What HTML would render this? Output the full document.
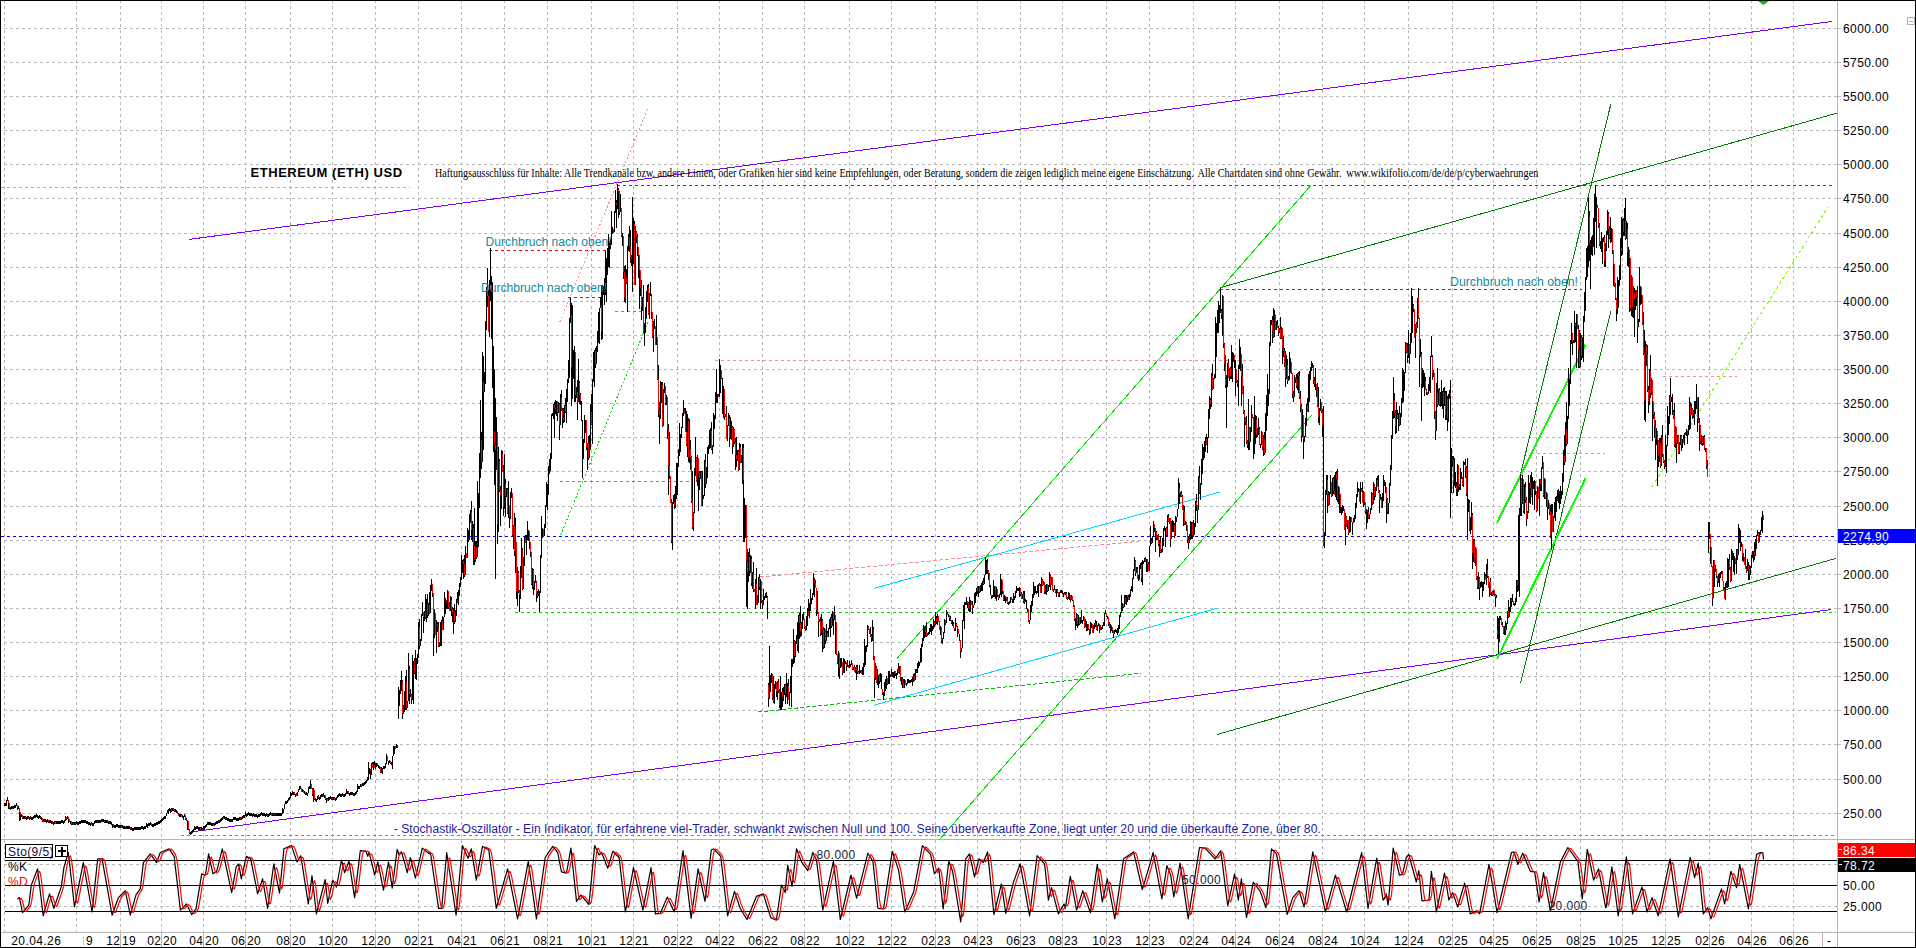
<!DOCTYPE html>
<html><head><meta charset="utf-8"><style>
html,body{margin:0;padding:0;background:#fff;width:1916px;height:948px;overflow:hidden}
svg{display:block}
</style></head><body>
<svg width="1916" height="948" viewBox="0 0 1916 948">
<rect width="1916" height="948" fill="#fff"/>
<g shape-rendering="crispEdges" stroke="#b8b8b8" stroke-width="1" stroke-dasharray="3 3">
<line x1="4" y1="28.5" x2="1837" y2="28.5"/>
<line x1="4" y1="62.5" x2="1837" y2="62.5"/>
<line x1="4" y1="96.5" x2="1837" y2="96.5"/>
<line x1="4" y1="130.5" x2="1837" y2="130.5"/>
<line x1="4" y1="164.5" x2="1837" y2="164.5"/>
<line x1="4" y1="198.5" x2="1837" y2="198.5"/>
<line x1="4" y1="233.5" x2="1837" y2="233.5"/>
<line x1="4" y1="267.5" x2="1837" y2="267.5"/>
<line x1="4" y1="301.5" x2="1837" y2="301.5"/>
<line x1="4" y1="335.5" x2="1837" y2="335.5"/>
<line x1="4" y1="369.5" x2="1837" y2="369.5"/>
<line x1="4" y1="403.5" x2="1837" y2="403.5"/>
<line x1="4" y1="437.5" x2="1837" y2="437.5"/>
<line x1="4" y1="471.5" x2="1837" y2="471.5"/>
<line x1="4" y1="506.5" x2="1837" y2="506.5"/>
<line x1="4" y1="540.5" x2="1837" y2="540.5"/>
<line x1="4" y1="574.5" x2="1837" y2="574.5"/>
<line x1="4" y1="608.5" x2="1837" y2="608.5"/>
<line x1="4" y1="642.5" x2="1837" y2="642.5"/>
<line x1="4" y1="676.5" x2="1837" y2="676.5"/>
<line x1="4" y1="710.5" x2="1837" y2="710.5"/>
<line x1="4" y1="744.5" x2="1837" y2="744.5"/>
<line x1="4" y1="779.5" x2="1837" y2="779.5"/>
<line x1="4" y1="813.5" x2="1837" y2="813.5"/>
<line x1="4.5" y1="0" x2="4.5" y2="839"/>
<line x1="4.5" y1="840" x2="4.5" y2="932"/>
<line x1="76.5" y1="0" x2="76.5" y2="839"/>
<line x1="76.5" y1="840" x2="76.5" y2="932"/>
<line x1="120.5" y1="0" x2="120.5" y2="839"/>
<line x1="120.5" y1="840" x2="120.5" y2="932"/>
<line x1="161.5" y1="0" x2="161.5" y2="839"/>
<line x1="161.5" y1="840" x2="161.5" y2="932"/>
<line x1="203.5" y1="0" x2="203.5" y2="839"/>
<line x1="203.5" y1="840" x2="203.5" y2="932"/>
<line x1="245.5" y1="0" x2="245.5" y2="839"/>
<line x1="245.5" y1="840" x2="245.5" y2="932"/>
<line x1="290.5" y1="0" x2="290.5" y2="839"/>
<line x1="290.5" y1="840" x2="290.5" y2="932"/>
<line x1="332.5" y1="0" x2="332.5" y2="839"/>
<line x1="332.5" y1="840" x2="332.5" y2="932"/>
<line x1="375.5" y1="0" x2="375.5" y2="839"/>
<line x1="375.5" y1="840" x2="375.5" y2="932"/>
<line x1="418.5" y1="0" x2="418.5" y2="839"/>
<line x1="418.5" y1="840" x2="418.5" y2="932"/>
<line x1="461.5" y1="0" x2="461.5" y2="839"/>
<line x1="461.5" y1="840" x2="461.5" y2="932"/>
<line x1="504.5" y1="0" x2="504.5" y2="839"/>
<line x1="504.5" y1="840" x2="504.5" y2="932"/>
<line x1="547.5" y1="0" x2="547.5" y2="839"/>
<line x1="547.5" y1="840" x2="547.5" y2="932"/>
<line x1="591.5" y1="0" x2="591.5" y2="839"/>
<line x1="591.5" y1="840" x2="591.5" y2="932"/>
<line x1="633.5" y1="0" x2="633.5" y2="839"/>
<line x1="633.5" y1="840" x2="633.5" y2="932"/>
<line x1="677.5" y1="0" x2="677.5" y2="839"/>
<line x1="677.5" y1="840" x2="677.5" y2="932"/>
<line x1="719.5" y1="0" x2="719.5" y2="839"/>
<line x1="719.5" y1="840" x2="719.5" y2="932"/>
<line x1="762.5" y1="0" x2="762.5" y2="839"/>
<line x1="762.5" y1="840" x2="762.5" y2="932"/>
<line x1="804.5" y1="0" x2="804.5" y2="839"/>
<line x1="804.5" y1="840" x2="804.5" y2="932"/>
<line x1="849.5" y1="0" x2="849.5" y2="839"/>
<line x1="849.5" y1="840" x2="849.5" y2="932"/>
<line x1="891.5" y1="0" x2="891.5" y2="839"/>
<line x1="891.5" y1="840" x2="891.5" y2="932"/>
<line x1="935.5" y1="0" x2="935.5" y2="839"/>
<line x1="935.5" y1="840" x2="935.5" y2="932"/>
<line x1="977.5" y1="0" x2="977.5" y2="839"/>
<line x1="977.5" y1="840" x2="977.5" y2="932"/>
<line x1="1020.5" y1="0" x2="1020.5" y2="839"/>
<line x1="1020.5" y1="840" x2="1020.5" y2="932"/>
<line x1="1062.5" y1="0" x2="1062.5" y2="839"/>
<line x1="1062.5" y1="840" x2="1062.5" y2="932"/>
<line x1="1106.5" y1="0" x2="1106.5" y2="839"/>
<line x1="1106.5" y1="840" x2="1106.5" y2="932"/>
<line x1="1149.5" y1="0" x2="1149.5" y2="839"/>
<line x1="1149.5" y1="840" x2="1149.5" y2="932"/>
<line x1="1193.5" y1="0" x2="1193.5" y2="839"/>
<line x1="1193.5" y1="840" x2="1193.5" y2="932"/>
<line x1="1235.5" y1="0" x2="1235.5" y2="839"/>
<line x1="1235.5" y1="840" x2="1235.5" y2="932"/>
<line x1="1279.5" y1="0" x2="1279.5" y2="839"/>
<line x1="1279.5" y1="840" x2="1279.5" y2="932"/>
<line x1="1322.5" y1="0" x2="1322.5" y2="839"/>
<line x1="1322.5" y1="840" x2="1322.5" y2="932"/>
<line x1="1364.5" y1="0" x2="1364.5" y2="839"/>
<line x1="1364.5" y1="840" x2="1364.5" y2="932"/>
<line x1="1408.5" y1="0" x2="1408.5" y2="839"/>
<line x1="1408.5" y1="840" x2="1408.5" y2="932"/>
<line x1="1452.5" y1="0" x2="1452.5" y2="839"/>
<line x1="1452.5" y1="840" x2="1452.5" y2="932"/>
<line x1="1493.5" y1="0" x2="1493.5" y2="839"/>
<line x1="1493.5" y1="840" x2="1493.5" y2="932"/>
<line x1="1536.5" y1="0" x2="1536.5" y2="839"/>
<line x1="1536.5" y1="840" x2="1536.5" y2="932"/>
<line x1="1580.5" y1="0" x2="1580.5" y2="839"/>
<line x1="1580.5" y1="840" x2="1580.5" y2="932"/>
<line x1="1622.5" y1="0" x2="1622.5" y2="839"/>
<line x1="1622.5" y1="840" x2="1622.5" y2="932"/>
<line x1="1665.5" y1="0" x2="1665.5" y2="839"/>
<line x1="1665.5" y1="840" x2="1665.5" y2="932"/>
<line x1="1709.5" y1="0" x2="1709.5" y2="839"/>
<line x1="1709.5" y1="840" x2="1709.5" y2="932"/>
<line x1="1751.5" y1="0" x2="1751.5" y2="839"/>
<line x1="1751.5" y1="840" x2="1751.5" y2="932"/>
<line x1="1793.5" y1="0" x2="1793.5" y2="839"/>
<line x1="1793.5" y1="840" x2="1793.5" y2="932"/>
<line x1="4" y1="864.5" x2="1837" y2="864.5"/>
<line x1="4" y1="906.5" x2="1837" y2="906.5"/>
</g>
<g shape-rendering="crispEdges" stroke="#b8b8b8" stroke-width="1">
<line x1="1834" y1="28.5" x2="1841" y2="28.5"/>
<line x1="1834" y1="62.5" x2="1841" y2="62.5"/>
<line x1="1834" y1="96.5" x2="1841" y2="96.5"/>
<line x1="1834" y1="130.5" x2="1841" y2="130.5"/>
<line x1="1834" y1="164.5" x2="1841" y2="164.5"/>
<line x1="1834" y1="198.5" x2="1841" y2="198.5"/>
<line x1="1834" y1="233.5" x2="1841" y2="233.5"/>
<line x1="1834" y1="267.5" x2="1841" y2="267.5"/>
<line x1="1834" y1="301.5" x2="1841" y2="301.5"/>
<line x1="1834" y1="335.5" x2="1841" y2="335.5"/>
<line x1="1834" y1="369.5" x2="1841" y2="369.5"/>
<line x1="1834" y1="403.5" x2="1841" y2="403.5"/>
<line x1="1834" y1="437.5" x2="1841" y2="437.5"/>
<line x1="1834" y1="471.5" x2="1841" y2="471.5"/>
<line x1="1834" y1="506.5" x2="1841" y2="506.5"/>
<line x1="1834" y1="540.5" x2="1841" y2="540.5"/>
<line x1="1834" y1="574.5" x2="1841" y2="574.5"/>
<line x1="1834" y1="608.5" x2="1841" y2="608.5"/>
<line x1="1834" y1="642.5" x2="1841" y2="642.5"/>
<line x1="1834" y1="676.5" x2="1841" y2="676.5"/>
<line x1="1834" y1="710.5" x2="1841" y2="710.5"/>
<line x1="1834" y1="744.5" x2="1841" y2="744.5"/>
<line x1="1834" y1="779.5" x2="1841" y2="779.5"/>
<line x1="1834" y1="813.5" x2="1841" y2="813.5"/>
</g>
<g shape-rendering="crispEdges">
<rect x="0" y="0" width="1916" height="1" fill="#000"/>
<rect x="0" y="0" width="1" height="948" fill="#000"/>
<rect x="1915" y="0" width="1" height="948" fill="#000"/>
<rect x="0" y="947" width="1916" height="1" fill="#000"/>
<rect x="1" y="839" width="1914" height="1" fill="#b4b4b4"/>
<rect x="1" y="932" width="1914" height="1" fill="#b4b4b4"/>
<rect x="1837" y="1" width="1" height="946" fill="#b4b4b4"/>
<rect x="120" y="933" width="1" height="14" fill="#b4b4b4"/>
<rect x="161" y="933" width="1" height="14" fill="#b4b4b4"/>
<rect x="203" y="933" width="1" height="14" fill="#b4b4b4"/>
<rect x="245" y="933" width="1" height="14" fill="#b4b4b4"/>
<rect x="290" y="933" width="1" height="14" fill="#b4b4b4"/>
<rect x="332" y="933" width="1" height="14" fill="#b4b4b4"/>
<rect x="375" y="933" width="1" height="14" fill="#b4b4b4"/>
<rect x="418" y="933" width="1" height="14" fill="#b4b4b4"/>
<rect x="461" y="933" width="1" height="14" fill="#b4b4b4"/>
<rect x="504" y="933" width="1" height="14" fill="#b4b4b4"/>
<rect x="547" y="933" width="1" height="14" fill="#b4b4b4"/>
<rect x="591" y="933" width="1" height="14" fill="#b4b4b4"/>
<rect x="633" y="933" width="1" height="14" fill="#b4b4b4"/>
<rect x="677" y="933" width="1" height="14" fill="#b4b4b4"/>
<rect x="719" y="933" width="1" height="14" fill="#b4b4b4"/>
<rect x="762" y="933" width="1" height="14" fill="#b4b4b4"/>
<rect x="804" y="933" width="1" height="14" fill="#b4b4b4"/>
<rect x="849" y="933" width="1" height="14" fill="#b4b4b4"/>
<rect x="891" y="933" width="1" height="14" fill="#b4b4b4"/>
<rect x="935" y="933" width="1" height="14" fill="#b4b4b4"/>
<rect x="977" y="933" width="1" height="14" fill="#b4b4b4"/>
<rect x="1020" y="933" width="1" height="14" fill="#b4b4b4"/>
<rect x="1062" y="933" width="1" height="14" fill="#b4b4b4"/>
<rect x="1106" y="933" width="1" height="14" fill="#b4b4b4"/>
<rect x="1149" y="933" width="1" height="14" fill="#b4b4b4"/>
<rect x="1193" y="933" width="1" height="14" fill="#b4b4b4"/>
<rect x="1235" y="933" width="1" height="14" fill="#b4b4b4"/>
<rect x="1279" y="933" width="1" height="14" fill="#b4b4b4"/>
<rect x="1322" y="933" width="1" height="14" fill="#b4b4b4"/>
<rect x="1364" y="933" width="1" height="14" fill="#b4b4b4"/>
<rect x="1408" y="933" width="1" height="14" fill="#b4b4b4"/>
<rect x="1452" y="933" width="1" height="14" fill="#b4b4b4"/>
<rect x="1493" y="933" width="1" height="14" fill="#b4b4b4"/>
<rect x="1536" y="933" width="1" height="14" fill="#b4b4b4"/>
<rect x="1580" y="933" width="1" height="14" fill="#b4b4b4"/>
<rect x="1622" y="933" width="1" height="14" fill="#b4b4b4"/>
<rect x="1665" y="933" width="1" height="14" fill="#b4b4b4"/>
<rect x="1709" y="933" width="1" height="14" fill="#b4b4b4"/>
<rect x="1751" y="933" width="1" height="14" fill="#b4b4b4"/>
<rect x="1793" y="933" width="1" height="14" fill="#b4b4b4"/>
<rect x="1822" y="933" width="1" height="14" fill="#b4b4b4"/>
</g>
<line x1="1" y1="187.5" x2="410" y2="187.5" stroke="#ff8c8c" stroke-width="1" stroke-dasharray="3 3" shape-rendering="crispEdges"/>
<line x1="617" y1="185.5" x2="1832" y2="185.5" stroke="#ff0000" stroke-width="1" stroke-dasharray="3 3" shape-rendering="crispEdges"/>
<line x1="489" y1="250.5" x2="607" y2="250.5" stroke="#ff0000" stroke-width="1" stroke-dasharray="3 3" shape-rendering="crispEdges"/>
<line x1="568" y1="297.5" x2="602" y2="297.5" stroke="#ff0000" stroke-width="1" stroke-dasharray="3 3" shape-rendering="crispEdges"/>
<line x1="1220" y1="289.5" x2="1582" y2="289.5" stroke="#ff0000" stroke-width="1" stroke-dasharray="3 3" shape-rendering="crispEdges"/>
<line x1="715" y1="360.5" x2="1255" y2="360.5" stroke="#ff8c8c" stroke-width="1" stroke-dasharray="3 3" shape-rendering="crispEdges"/>
<line x1="1" y1="536.5" x2="1836" y2="536.5" stroke="#0000ff" stroke-width="1" stroke-dasharray="3 3" shape-rendering="crispEdges"/>
<line x1="560" y1="481.5" x2="693" y2="481.5" stroke="#00e000" stroke-width="1" stroke-dasharray="3 3" shape-rendering="crispEdges"/>
<line x1="615" y1="311.5" x2="647" y2="311.5" stroke="#00e000" stroke-width="1" stroke-dasharray="3 3" shape-rendering="crispEdges"/>
<line x1="515" y1="612.5" x2="1836" y2="612.5" stroke="#00e000" stroke-width="1" stroke-dasharray="3 3" shape-rendering="crispEdges"/>
<line x1="1531" y1="453.5" x2="1605" y2="453.5" stroke="#ff8c8c" stroke-width="1" stroke-dasharray="3 3" shape-rendering="crispEdges"/>
<line x1="1541" y1="549.5" x2="1671" y2="549.5" stroke="#a0f000" stroke-width="1" stroke-dasharray="3 3" shape-rendering="crispEdges"/>
<line x1="1663" y1="376.5" x2="1737" y2="376.5" stroke="#ff8c8c" stroke-width="1" stroke-dasharray="3 3" shape-rendering="crispEdges"/>
<line x1="181" y1="835.5" x2="1836" y2="835.5" stroke="#00e000" stroke-width="1" stroke-dasharray="3 3" shape-rendering="crispEdges"/>
<line x1="759.8" y1="577.0" x2="1139.0" y2="541.3" stroke="#ff8c8c" stroke-width="1" stroke-dasharray="4 2" shape-rendering="crispEdges"/>
<line x1="758.0" y1="712.0" x2="1140.6" y2="673.3" stroke="#00c000" stroke-width="1" stroke-dasharray="4 2" shape-rendering="crispEdges"/>
<line x1="560.6" y1="535.2" x2="648.0" y2="322.0" stroke="#00e000" stroke-width="1" stroke-dasharray="2 2" shape-rendering="crispEdges"/>
<line x1="559.8" y1="322.0" x2="648.0" y2="108.0" stroke="#ff8c8c" stroke-width="1" stroke-dasharray="2 2" shape-rendering="crispEdges"/>
<line x1="1651.8" y1="487.0" x2="1828.0" y2="207.0" stroke="#80ff00" stroke-width="1.1" stroke-dasharray="3 3" shape-rendering="crispEdges"/>
<line x1="189.0" y1="239.4" x2="1831.7" y2="21.5" stroke="#8000ff" stroke-width="1.0" shape-rendering="crispEdges"/>
<line x1="189.5" y1="832.2" x2="1830.6" y2="609.6" stroke="#8000ff" stroke-width="1.0" shape-rendering="crispEdges"/>
<line x1="1219.7" y1="287.8" x2="1836.8" y2="113.2" stroke="#008000" stroke-width="1.0" shape-rendering="crispEdges"/>
<line x1="1216.7" y1="734.6" x2="1836.0" y2="558.4" stroke="#008000" stroke-width="1.0" shape-rendering="crispEdges"/>
<line x1="897.0" y1="658.5" x2="1310.5" y2="185.8" stroke="#00e000" stroke-width="1.0" shape-rendering="crispEdges"/>
<line x1="940.0" y1="839.0" x2="1311.8" y2="415.0" stroke="#00e000" stroke-width="1.0" shape-rendering="crispEdges"/>
<line x1="874.0" y1="588.4" x2="1220.0" y2="492.0" stroke="#00d8ff" stroke-width="1.0" shape-rendering="crispEdges"/>
<line x1="874.0" y1="705.2" x2="1218.0" y2="608.0" stroke="#00d8ff" stroke-width="1.0" shape-rendering="crispEdges"/>
<line x1="1520.7" y1="682.7" x2="1610.8" y2="311.5" stroke="#008000" stroke-width="1.0" shape-rendering="crispEdges"/>
<line x1="1520.5" y1="474.0" x2="1610.8" y2="104.2" stroke="#008000" stroke-width="1.0" shape-rendering="crispEdges"/>
<line x1="1497.0" y1="659.0" x2="1585.6" y2="478.5" stroke="#00ff00" stroke-width="2.0" shape-rendering="crispEdges"/>
<line x1="1497.0" y1="522.8" x2="1585.4" y2="344.7" stroke="#00ff00" stroke-width="2.0" shape-rendering="crispEdges"/>
<path d="M4.5 803V806M5.5 803V806M6.5 800V806M7.5 797V801M8.5 800V809M9.5 803V809M10.5 807V810M11.5 806V809M12.5 806V809M13.5 806V809M14.5 805V808M15.5 805V808M16.5 803V806M17.5 805V810M18.5 806V809M19.5 808V821M20.5 812V820M21.5 814V817M22.5 815V819M23.5 816V819M24.5 816V819M25.5 816V819M26.5 817V820M27.5 816V819M28.5 816V819M29.5 817V820M30.5 816V819M31.5 817V820M32.5 817V820M33.5 816V819M34.5 815V818M35.5 815V818M36.5 814V817M37.5 815V818M38.5 816V819M39.5 815V818M40.5 816V819M41.5 817V820M42.5 818V822M43.5 819V822M44.5 819V822M45.5 819V822M46.5 820V823M47.5 819V822M48.5 820V823M49.5 820V823M50.5 820V823M51.5 821V824M52.5 821V824M53.5 822V825M54.5 821V824M55.5 821V824M56.5 821V824M57.5 821V824M58.5 821V824M59.5 821V824M60.5 821V824M61.5 820V823M62.5 820V823M63.5 821V824M64.5 820V823M65.5 816V821M66.5 817V820M67.5 816V819M68.5 817V823M69.5 819V822M70.5 821V824M71.5 821V825M72.5 822V825M73.5 822V825M74.5 822V825M75.5 822V825M76.5 821V824M77.5 822V825M78.5 822V825M79.5 821V824M80.5 821V824M81.5 820V823M82.5 820V823M83.5 820V823M84.5 820V823M85.5 820V823M86.5 821V824M87.5 821V824M88.5 822V825M89.5 822V825M90.5 823V826M91.5 822V825M92.5 823V826M93.5 823V826M94.5 821V824M95.5 820V823M96.5 820V823M97.5 820V823M98.5 820V823M99.5 820V823M100.5 820V823M101.5 819V822M102.5 819V822M103.5 819V822M104.5 820V823M105.5 820V823M106.5 820V823M107.5 820V823M108.5 821V824M109.5 821V824M110.5 821V824M111.5 822V825M112.5 824V828M113.5 824V827M114.5 825V828M115.5 825V828M116.5 824V827M117.5 824V827M118.5 825V828M119.5 825V828M120.5 825V828M121.5 825V828M122.5 825V828M123.5 826V829M124.5 826V829M125.5 826V829M126.5 826V829M127.5 826V829M128.5 826V829M129.5 826V829M130.5 827V830M131.5 827V830M132.5 828V831M133.5 828V831M134.5 827V830M135.5 827V830M136.5 827V830M137.5 827V830M138.5 827V830M139.5 827V830M140.5 827V830M141.5 826V829M142.5 826V829M143.5 827V830M144.5 826V829M145.5 826V829M146.5 823V827M147.5 824V828M148.5 823V826M149.5 823V826M150.5 822V825M151.5 823V826M152.5 824V827M153.5 824V827M154.5 823V826M155.5 823V826M156.5 822V825M157.5 822V825M158.5 821V824M159.5 821V824M160.5 820V823M161.5 819V822M162.5 818V821M163.5 817V820M164.5 816V819M165.5 816V819M166.5 813V816M167.5 810V813M168.5 809V814M169.5 808V811M170.5 809V813M171.5 808V812M172.5 808V811M173.5 808V811M174.5 809V812M175.5 809V812M176.5 810V813M177.5 811V814M178.5 813V816M179.5 814V817M180.5 814V817M181.5 814V817M182.5 815V818M183.5 816V820M184.5 814V817M185.5 815V820M186.5 818V821M187.5 820V830M188.5 821V830M189.5 829V834M190.5 832V835M191.5 831V834M192.5 830V833M193.5 829V832M194.5 826V830M195.5 827V830M196.5 826V829M197.5 826V829M198.5 827V830M199.5 827V830M200.5 827V831M201.5 827V830M202.5 828V831M203.5 826V830M204.5 826V830M205.5 825V828M206.5 824V827M207.5 822V825M208.5 822V825M209.5 822V825M210.5 822V825M211.5 823V826M212.5 823V826M213.5 823V826M214.5 823V826M215.5 822V825M216.5 821V824M217.5 821V824M218.5 820V823M219.5 820V823M220.5 819V822M221.5 818V821M222.5 817V820M223.5 816V819M224.5 816V819M225.5 817V820M226.5 817V820M227.5 818V821M228.5 818V821M229.5 819V822M230.5 819V822M231.5 819V822M232.5 819V822M233.5 817V820M234.5 817V820M235.5 817V820M236.5 818V821M237.5 818V821M238.5 818V821M239.5 817V820M240.5 817V820M241.5 817V820M242.5 816V819M243.5 815V818M244.5 815V818M245.5 812V816M246.5 814V817M247.5 813V816M248.5 812V815M249.5 813V816M250.5 813V816M251.5 813V816M252.5 814V817M253.5 813V816M254.5 814V817M255.5 814V817M256.5 814V817M257.5 815V818M258.5 814V817M259.5 814V817M260.5 813V816M261.5 812V815M262.5 813V816M263.5 813V816M264.5 813V816M265.5 814V817M266.5 813V816M267.5 814V817M268.5 814V817M269.5 813V816M270.5 812V815M271.5 813V816M272.5 813V816M273.5 813V816M274.5 813V816M275.5 813V816M276.5 813V816M277.5 813V816M278.5 813V816M279.5 813V816M280.5 813V816M281.5 813V816M282.5 808V814M283.5 809V813M284.5 804V809M285.5 801V804M286.5 801V804M287.5 800V803M288.5 798V801M289.5 797V800M290.5 792V798M291.5 793V796M292.5 791V795M293.5 792V795M294.5 792V795M295.5 794V797M296.5 793V796M297.5 792V796M298.5 789V792M299.5 786V790M300.5 786V789M301.5 788V792M302.5 789V792M303.5 790V793M304.5 791V794M305.5 792V795M306.5 792V795M307.5 793V796M308.5 787V793M309.5 786V789M310.5 780V789M311.5 784V789M312.5 788V796M313.5 788V802M314.5 790V800M315.5 798V801M316.5 799V802M317.5 796V800M318.5 795V799M319.5 797V800M320.5 795V799M321.5 794V797M322.5 794V797M323.5 793V797M324.5 795V798M325.5 795V800M326.5 798V803M327.5 798V801M328.5 797V801M329.5 797V800M330.5 796V799M331.5 797V800M332.5 797V800M333.5 797V800M334.5 797V800M335.5 798V801M336.5 797V800M337.5 795V798M338.5 794V797M339.5 793V796M340.5 794V797M341.5 794V797M342.5 793V796M343.5 794V797M344.5 794V797M345.5 793V796M346.5 789V794M347.5 791V794M348.5 791V794M349.5 793V796M350.5 792V795M351.5 792V795M352.5 792V795M353.5 793V796M354.5 793V796M355.5 792V795M356.5 791V794M357.5 784V792M358.5 786V789M359.5 786V789M360.5 784V787M361.5 784V787M362.5 783V786M363.5 783V786M364.5 782V785M365.5 781V784M366.5 780V783M367.5 777V781M368.5 762V780M369.5 768V774M370.5 769V779M371.5 763V775M372.5 762V768M373.5 762V770M374.5 761V768M375.5 763V769M376.5 763V767M377.5 763V766M378.5 765V768M379.5 766V769M380.5 767V773M381.5 767V773M382.5 768V774M383.5 766V769M384.5 766V769M385.5 763V768M386.5 754V764M387.5 756V761M388.5 761V765M389.5 760V763M390.5 761V764M391.5 762V765M392.5 756V769M393.5 746V756M394.5 746V754M395.5 746V749M396.5 744V748M397.5 745V748M398.5 687V719M399.5 690V706M400.5 680V694M401.5 671V691M402.5 680V719M403.5 705V714M404.5 691V712M405.5 676V710M406.5 670V710M407.5 701V708M408.5 653V701M409.5 666V704M410.5 689V697M411.5 694V704M412.5 655V700M413.5 661V704M414.5 658V674M415.5 650V679M416.5 658V680M417.5 654V664M418.5 622V658M419.5 619V649M420.5 639V646M421.5 614V641M422.5 602V616M423.5 612V633M424.5 611V621M425.5 594V619M426.5 599V622M427.5 594V618M428.5 603V616M429.5 592V614M430.5 585V613M431.5 579V591M432.5 584V597M433.5 593V656M434.5 609V638M435.5 613V635M436.5 620V653M437.5 622V632M438.5 622V647M439.5 642V647M440.5 622V646M441.5 620V646M442.5 616V630M443.5 617V630M444.5 592V617M445.5 598V614M446.5 600V609M447.5 590V609M448.5 591V609M449.5 602V611M450.5 596V611M451.5 597V616M452.5 607V622M453.5 608V634M454.5 604V624M455.5 610V622M456.5 599V616M457.5 592V603M458.5 590V605M459.5 583V596M460.5 577V587M461.5 555V580M462.5 560V573M463.5 559V579M464.5 555V577M465.5 546V575M466.5 553V558M467.5 528V558M468.5 530V542M469.5 514V540M470.5 510V523M471.5 501V540M472.5 521V542M473.5 524V565M474.5 508V565M475.5 541V562M476.5 541V559M477.5 481V557M478.5 493V547M479.5 453V508M480.5 400V478M481.5 432V469M482.5 352V462M483.5 356V450M484.5 372V392M485.5 321V384M486.5 287V330M487.5 268V307M488.5 290V332M489.5 280V337M490.5 248V301M491.5 276V339M492.5 282V388M493.5 346V452M494.5 369V485M495.5 398V579M496.5 417V470M497.5 432V544M498.5 447V532M499.5 459V492M500.5 486V526M501.5 450V509M502.5 451V472M503.5 465V516M504.5 454V509M505.5 479V517M506.5 488V497M507.5 488V514M508.5 481V518M509.5 505V528M510.5 492V519M511.5 488V498M512.5 493V537M513.5 525V549M514.5 513V556M515.5 518V573M516.5 542V599M517.5 567V606M518.5 571V593M519.5 590V612M520.5 566V599M521.5 538V578M522.5 548V590M523.5 557V589M524.5 537V566M525.5 535V543M526.5 535V555M527.5 521V540M528.5 530V541M529.5 531V549M530.5 542V557M531.5 552V585M532.5 568V589M533.5 569V595M534.5 581V590M535.5 575V583M536.5 581V602M537.5 591V598M538.5 589V596M539.5 591V612M540.5 555V593M541.5 516V558M542.5 528V538M543.5 529V536M544.5 524V536M545.5 505V528M546.5 482V507M547.5 484V510M548.5 466V495M549.5 459V474M550.5 453V471M551.5 414V459M552.5 413V416M553.5 404V419M554.5 402V438M555.5 400V414M556.5 401V416M557.5 401V421M558.5 402V413M559.5 403V440M560.5 394V425M561.5 390V411M562.5 408V428M563.5 408V423M564.5 405V422M565.5 398V413M566.5 389V423M567.5 379V402M568.5 360V383M569.5 318V378M570.5 298V323M571.5 303V406M572.5 305V399M573.5 350V379M574.5 346V402M575.5 352V402M576.5 387V398M577.5 380V420M578.5 359V402M579.5 381V404M580.5 393V405M581.5 401V421M582.5 420V478M583.5 439V459M584.5 415V443M585.5 420V433M586.5 420V450M587.5 443V470M588.5 436V460M589.5 435V458M590.5 404V450M591.5 394V425M592.5 379V444M593.5 352V382M594.5 350V387M595.5 348V368M596.5 346V364M597.5 331V352M598.5 312V343M599.5 308V344M600.5 297V308M601.5 285V340M602.5 285V339M603.5 286V295M604.5 278V305M605.5 251V295M606.5 258V302M607.5 248V275M608.5 234V267M609.5 241V268M610.5 239V249M611.5 211V245M612.5 227V234M613.5 229V233M614.5 211V232M615.5 190V213M616.5 200V228M617.5 184V209M618.5 188V218M619.5 191V215M620.5 194V212M621.5 208V237M622.5 233V246M623.5 236V279M624.5 266V302M625.5 265V303M626.5 269V284M627.5 246V312M628.5 234V251M629.5 226V252M630.5 230V263M631.5 255V266M632.5 197V292M633.5 218V264M634.5 221V285M635.5 226V285M636.5 231V243M637.5 234V256M638.5 247V278M639.5 255V309M640.5 270V296M641.5 280V320M642.5 297V311M643.5 285V334M644.5 323V346M645.5 307V333M646.5 291V319M647.5 285V302M648.5 284V315M649.5 293V319M650.5 282V296M651.5 294V319M652.5 312V338M653.5 321V352M654.5 319V329M655.5 326V345M656.5 315V345M657.5 337V380M658.5 365V417M659.5 402V444M660.5 381V419M661.5 382V403M662.5 382V427M663.5 389V426M664.5 383V393M665.5 386V405M666.5 395V405M667.5 397V439M668.5 424V495M669.5 432V479M670.5 476V503M671.5 499V543M672.5 502V550M673.5 495V504M674.5 494V509M675.5 486V508M676.5 463V499M677.5 463V495M678.5 449V467M679.5 423V456M680.5 434V452M681.5 427V438M682.5 413V428M683.5 400V416M684.5 408V414M685.5 408V432M686.5 411V446M687.5 414V457M688.5 418V462M689.5 419V463M690.5 440V470M691.5 456V503M692.5 471V529M693.5 512V531M694.5 468V513M695.5 437V476M696.5 457V482M697.5 455V486M698.5 458V511M699.5 471V490M700.5 471V479M701.5 471V506M702.5 471V506M703.5 495V499M704.5 460V496M705.5 454V488M706.5 467V484M707.5 447V478M708.5 445V454M709.5 430V449M710.5 428V448M711.5 422V450M712.5 445V454M713.5 413V447M714.5 415V429M715.5 392V419M716.5 369V403M717.5 394V403M718.5 394V397M719.5 359V397M720.5 365V393M721.5 370V379M722.5 378V414M723.5 386V418M724.5 389V420M725.5 414V417M726.5 406V439M727.5 425V441M728.5 413V426M729.5 415V447M730.5 417V439M731.5 421V440M732.5 426V454M733.5 427V447M734.5 429V444M735.5 438V470M736.5 437V467M737.5 450V461M738.5 450V471M739.5 443V470M740.5 444V463M741.5 455V463M742.5 444V484M743.5 444V542M744.5 498V542M745.5 505V538M746.5 505V607M747.5 549V609M748.5 552V582M749.5 548V576M750.5 555V573M751.5 556V586M752.5 572V589M753.5 562V592M754.5 589V592M755.5 579V609M756.5 568V605M757.5 595V605M758.5 577V603M759.5 574V590M760.5 579V609M761.5 581V603M762.5 600V609M763.5 589V605M764.5 596V600M765.5 593V598M766.5 592V598M767.5 596V619M768.5 683V707M769.5 646V699M770.5 675V692M771.5 673V683M772.5 674V700M773.5 676V703M774.5 684V704M775.5 681V689M776.5 682V697M777.5 681V700M778.5 679V693M779.5 689V708M780.5 676V710M781.5 692V710M782.5 688V707M783.5 687V701M784.5 684V695M785.5 684V704M786.5 673V697M787.5 683V704M788.5 679V700M789.5 692V706M790.5 676V693M791.5 659V707M792.5 659V667M793.5 629V664M794.5 640V663M795.5 641V657M796.5 635V644M797.5 622V651M798.5 615V653M799.5 613V639M800.5 606V637M801.5 622V636M802.5 614V629M803.5 612V620M804.5 619V629M805.5 626V631M806.5 616V630M807.5 608V626M808.5 599V616M809.5 603V618M810.5 589V611M811.5 598V604M812.5 593V600M813.5 573V595M814.5 578V597M815.5 580V588M816.5 588V616M817.5 591V614M818.5 612V637M819.5 619V622M820.5 617V636M821.5 614V635M822.5 619V652M823.5 627V649M824.5 628V648M825.5 629V644M826.5 624V641M827.5 631V637M828.5 628V637M829.5 619V629M830.5 617V637M831.5 614V628M832.5 611V626M833.5 612V635M834.5 606V620M835.5 615V654M836.5 622V655M837.5 654V664M838.5 651V677M839.5 653V679M840.5 658V668M841.5 658V667M842.5 662V675M843.5 658V673M844.5 659V673M845.5 661V664M846.5 662V671M847.5 660V667M848.5 665V668M849.5 661V668M850.5 664V667M851.5 660V665M852.5 663V670M853.5 667V670M854.5 665V672M855.5 667V673M856.5 665V680M857.5 665V674M858.5 671V674M859.5 665V674M860.5 670V673M861.5 670V674M862.5 667V675M863.5 663V675M864.5 639V667M865.5 646V665M866.5 645V652M867.5 625V647M868.5 626V630M869.5 629V634M870.5 627V637M871.5 634V642M872.5 620V641M873.5 627V660M874.5 656V698M875.5 663V680M876.5 666V683M877.5 669V685M878.5 675V688M879.5 674V684M880.5 673V682M881.5 674V689M882.5 689V695M883.5 692V700M884.5 682V696M885.5 679V691M886.5 676V689M887.5 678V685M888.5 671V684M889.5 671V684M890.5 674V677M891.5 669V677M892.5 672V677M893.5 672V678M894.5 671V678M895.5 671V676M896.5 673V679M897.5 669V675M898.5 663V673M899.5 666V674M900.5 666V681M901.5 677V685M902.5 677V688M903.5 679V688M904.5 679V688M905.5 680V685M906.5 683V686M907.5 679V684M908.5 679V683M909.5 680V683M910.5 680V683M911.5 679V682M912.5 677V686M913.5 674V682M914.5 673V681M915.5 669V680M916.5 669V673M917.5 663V673M918.5 661V668M919.5 662V666M920.5 648V663M921.5 644V662M922.5 638V647M923.5 625V641M924.5 627V638M925.5 626V637M926.5 622V637M927.5 633V636M928.5 632V635M929.5 628V634M930.5 624V632M931.5 624V635M932.5 626V631M933.5 619V629M934.5 621V627M935.5 612V625M936.5 616V624M937.5 614V625M938.5 616V622M939.5 621V630M940.5 626V635M941.5 627V643M942.5 638V644M943.5 632V639M944.5 619V633M945.5 620V625M946.5 610V623M947.5 612V615M948.5 614V617M949.5 615V621M950.5 616V621M951.5 620V624M952.5 620V626M953.5 622V628M954.5 628V631M955.5 618V631M956.5 623V627M957.5 626V637M958.5 629V634M959.5 634V641M960.5 640V658M961.5 648V652M962.5 620V648M963.5 605V621M964.5 602V629M965.5 602V605M966.5 597V605M967.5 601V608M968.5 602V611M969.5 597V612M970.5 600V612M971.5 601V605M972.5 601V614M973.5 605V608M974.5 593V605M975.5 592V603M976.5 588V596M977.5 586V594M978.5 586V597M979.5 586V593M980.5 585V592M981.5 583V591M982.5 581V591M983.5 578V585M984.5 575V584M985.5 557V575M986.5 560V574M987.5 559V574M988.5 570V580M989.5 573V587M990.5 585V595M991.5 595V599M992.5 595V598M993.5 580V597M994.5 586V597M995.5 586V599M996.5 587V601M997.5 589V597M998.5 595V600M999.5 594V598M1000.5 574V595M1001.5 579V597M1002.5 580V594M1003.5 591V601M1004.5 595V601M1005.5 596V603M1006.5 597V601M1007.5 597V604M1008.5 602V605M1009.5 601V604M1010.5 597V603M1011.5 597V600M1012.5 599V603M1013.5 593V603M1014.5 596V600M1015.5 591V598M1016.5 586V593M1017.5 588V591M1018.5 588V591M1019.5 587V597M1020.5 588V596M1021.5 592V599M1022.5 594V599M1023.5 591V603M1024.5 591V604M1025.5 599V602M1026.5 600V609M1027.5 608V612M1028.5 609V622M1029.5 620V624M1030.5 605V620M1031.5 601V612M1032.5 594V606M1033.5 582V598M1034.5 586V595M1035.5 586V593M1036.5 591V594M1037.5 585V593M1038.5 584V597M1039.5 583V586M1040.5 584V593M1041.5 577V593M1042.5 579V586M1043.5 581V585M1044.5 582V594M1045.5 585V594M1046.5 584V595M1047.5 584V592M1048.5 585V591M1049.5 572V587M1050.5 574V590M1051.5 577V585M1052.5 577V591M1053.5 589V592M1054.5 585V590M1055.5 589V593M1056.5 589V597M1057.5 589V593M1058.5 592V597M1059.5 592V597M1060.5 590V593M1061.5 590V593M1062.5 591V594M1063.5 593V597M1064.5 592V595M1065.5 592V595M1066.5 592V599M1067.5 597V600M1068.5 592V599M1069.5 593V600M1070.5 595V602M1071.5 595V600M1072.5 596V601M1073.5 600V607M1074.5 605V621M1075.5 618V630M1076.5 613V626M1077.5 614V628M1078.5 615V626M1079.5 617V625M1080.5 617V624M1081.5 610V623M1082.5 620V624M1083.5 616V621M1084.5 617V628M1085.5 619V627M1086.5 621V631M1087.5 624V631M1088.5 624V630M1089.5 629V635M1090.5 622V634M1091.5 623V628M1092.5 624V633M1093.5 625V633M1094.5 623V629M1095.5 620V627M1096.5 621V630M1097.5 625V631M1098.5 623V626M1099.5 624V633M1100.5 625V630M1101.5 627V630M1102.5 625V629M1103.5 622V626M1104.5 613V626M1105.5 610V614M1106.5 613V617M1107.5 616V619M1108.5 617V626M1109.5 622V628M1110.5 624V633M1111.5 625V631M1112.5 627V633M1113.5 630V638M1114.5 630V634M1115.5 629V632M1116.5 630V633M1117.5 628V635M1118.5 625V633M1119.5 615V629M1120.5 612V617M1121.5 595V613M1122.5 603V611M1123.5 604V608M1124.5 595V607M1125.5 595V604M1126.5 595V605M1127.5 595V602M1128.5 595V600M1129.5 594V600M1130.5 589V597M1131.5 586V591M1132.5 578V592M1133.5 569V579M1134.5 557V571M1135.5 560V576M1136.5 567V573M1137.5 567V579M1138.5 575V581M1139.5 565V580M1140.5 563V569M1141.5 562V582M1142.5 560V585M1143.5 561V564M1144.5 558V562M1145.5 557V562M1146.5 559V572M1147.5 559V572M1148.5 562V571M1149.5 546V571M1150.5 526V546M1151.5 538V544M1152.5 536V543M1153.5 521V537M1154.5 524V532M1155.5 528V552M1156.5 531V540M1157.5 535V540M1158.5 534V546M1159.5 540V557M1160.5 536V553M1161.5 549V553M1162.5 538V552M1163.5 528V546M1164.5 526V531M1165.5 528V547M1166.5 527V536M1167.5 515V536M1168.5 514V522M1169.5 518V524M1170.5 518V547M1171.5 521V539M1172.5 520V532M1173.5 521V532M1174.5 523V538M1175.5 516V536M1176.5 517V522M1177.5 509V517M1178.5 478V509M1179.5 483V504M1180.5 492V497M1181.5 491V497M1182.5 495V510M1183.5 505V526M1184.5 506V525M1185.5 521V525M1186.5 522V531M1187.5 525V543M1188.5 536V549M1189.5 534V543M1190.5 521V540M1191.5 522V539M1192.5 522V539M1193.5 520V537M1194.5 523V535M1195.5 501V527M1196.5 494V511M1197.5 505V523M1198.5 476V510M1199.5 466V494M1200.5 483V500M1201.5 459V485M1202.5 444V474M1203.5 447V460M1204.5 441V458M1205.5 437V452M1206.5 434V445M1207.5 437V453M1208.5 409V438M1209.5 396V419M1210.5 398V409M1211.5 373V407M1212.5 364V390M1213.5 378V389M1214.5 374V379M1215.5 317V378M1216.5 323V357M1217.5 310V333M1218.5 301V333M1219.5 305V323M1220.5 288V313M1221.5 309V319M1222.5 295V336M1223.5 296V348M1224.5 343V371M1225.5 355V388M1226.5 375V428M1227.5 363V387M1228.5 359V378M1229.5 368V381M1230.5 367V379M1231.5 345V379M1232.5 352V382M1233.5 353V362M1234.5 355V368M1235.5 360V396M1236.5 369V383M1237.5 380V387M1238.5 365V406M1239.5 339V369M1240.5 347V371M1241.5 354V406M1242.5 364V394M1243.5 386V414M1244.5 410V447M1245.5 417V425M1246.5 416V444M1247.5 440V448M1248.5 399V450M1249.5 427V450M1250.5 427V442M1251.5 405V432M1252.5 414V418M1253.5 417V459M1254.5 396V454M1255.5 415V444M1256.5 416V438M1257.5 428V437M1258.5 418V435M1259.5 427V445M1260.5 444V448M1261.5 431V445M1262.5 432V450M1263.5 435V456M1264.5 432V455M1265.5 413V453M1266.5 395V431M1267.5 374V416M1268.5 389V406M1269.5 342V394M1270.5 320V346M1271.5 320V325M1272.5 316V343M1273.5 308V338M1274.5 310V337M1275.5 315V330M1276.5 321V330M1277.5 320V328M1278.5 326V336M1279.5 328V333M1280.5 317V339M1281.5 327V339M1282.5 328V364M1283.5 336V357M1284.5 348V367M1285.5 351V387M1286.5 355V379M1287.5 359V384M1288.5 376V381M1289.5 352V380M1290.5 358V373M1291.5 362V374M1292.5 373V398M1293.5 391V402M1294.5 375V397M1295.5 377V383M1296.5 374V388M1297.5 373V390M1298.5 372V393M1299.5 371V399M1300.5 391V412M1301.5 404V442M1302.5 409V437M1303.5 415V459M1304.5 436V442M1305.5 418V437M1306.5 404V426M1307.5 398V412M1308.5 374V412M1309.5 371V402M1310.5 367V380M1311.5 361V371M1312.5 363V368M1313.5 365V384M1314.5 377V387M1315.5 368V390M1316.5 384V397M1317.5 383V407M1318.5 387V423M1319.5 408V425M1320.5 399V411M1321.5 402V413M1322.5 409V437M1323.5 406V546M1324.5 532V548M1325.5 490V536M1326.5 475V495M1327.5 475V513M1328.5 491V506M1329.5 492V505M1330.5 475V494M1331.5 482V497M1332.5 478V496M1333.5 477V494M1334.5 475V495M1335.5 472V497M1336.5 471V500M1337.5 469V502M1338.5 486V504M1339.5 487V513M1340.5 494V513M1341.5 507V515M1342.5 505V513M1343.5 506V511M1344.5 509V530M1345.5 513V545M1346.5 516V527M1347.5 520V529M1348.5 520V535M1349.5 516V533M1350.5 517V532M1351.5 517V522M1352.5 522V535M1353.5 518V523M1354.5 515V522M1355.5 503V519M1356.5 494V508M1357.5 482V497M1358.5 488V492M1359.5 489V502M1360.5 482V504M1361.5 488V492M1362.5 482V503M1363.5 491V507M1364.5 492V505M1365.5 502V514M1366.5 509V529M1367.5 510V523M1368.5 507V519M1369.5 514V519M1370.5 508V514M1371.5 492V510M1372.5 493V505M1373.5 482V504M1374.5 484V500M1375.5 487V497M1376.5 478V491M1377.5 476V487M1378.5 475V493M1379.5 490V513M1380.5 494V500M1381.5 497V508M1382.5 493V508M1383.5 475V501M1384.5 480V486M1385.5 482V493M1386.5 487V523M1387.5 498V514M1388.5 503V514M1389.5 483V503M1390.5 465V486M1391.5 435V470M1392.5 411V439M1393.5 377V419M1394.5 393V418M1395.5 410V434M1396.5 402V433M1397.5 410V419M1398.5 413V431M1399.5 406V426M1400.5 413V425M1401.5 398V417M1402.5 368V403M1403.5 370V402M1404.5 372V391M1405.5 342V373M1406.5 343V353M1407.5 343V363M1408.5 330V358M1409.5 344V364M1410.5 333V354M1411.5 288V343M1412.5 296V333M1413.5 304V312M1414.5 309V338M1415.5 324V358M1416.5 322V333M1417.5 298V328M1418.5 288V319M1419.5 318V387M1420.5 339V357M1421.5 352V421M1422.5 368V388M1423.5 370V387M1424.5 373V396M1425.5 377V390M1426.5 389V395M1427.5 392V395M1428.5 384V394M1429.5 377V391M1430.5 356V393M1431.5 336V357M1432.5 355V380M1433.5 370V377M1434.5 373V419M1435.5 411V440M1436.5 383V431M1437.5 368V407M1438.5 389V405M1439.5 388V406M1440.5 392V407M1441.5 380V406M1442.5 391V409M1443.5 388V418M1444.5 387V406M1445.5 391V420M1446.5 391V420M1447.5 396V431M1448.5 394V422M1449.5 390V399M1450.5 380V518M1451.5 448V493M1452.5 456V467M1453.5 456V493M1454.5 458V486M1455.5 472V488M1456.5 482V496M1457.5 464V496M1458.5 465V492M1459.5 484V490M1460.5 468V490M1461.5 472V479M1462.5 477V486M1463.5 461V487M1464.5 462V465M1465.5 459V478M1466.5 466V496M1467.5 458V540M1468.5 499V512M1469.5 500V531M1470.5 517V534M1471.5 502V530M1472.5 513V569M1473.5 539V562M1474.5 539V563M1475.5 547V566M1476.5 548V580M1477.5 576V589M1478.5 572V589M1479.5 577V600M1480.5 582V588M1481.5 581V587M1482.5 582V597M1483.5 582V591M1484.5 572V584M1485.5 574V580M1486.5 564V585M1487.5 559V578M1488.5 576V588M1489.5 582V597M1490.5 578V595M1491.5 592V596M1492.5 591V596M1493.5 590V595M1494.5 590V596M1495.5 594V607M1496.5 595V598M1497.5 616V639M1498.5 618V654M1499.5 616V642M1500.5 616V620M1501.5 618V625M1502.5 622V627M1503.5 626V634M1504.5 626V635M1505.5 621V635M1506.5 623V630M1507.5 611V624M1508.5 600V618M1509.5 607V617M1510.5 598V612M1511.5 598V607M1512.5 594V602M1513.5 601V605M1514.5 603V606M1515.5 598V605M1516.5 580V602M1517.5 580V592M1518.5 515V591M1519.5 508V597M1520.5 474V516M1521.5 478V516M1522.5 475V504M1523.5 479V513M1524.5 484V514M1525.5 482V503M1526.5 497V526M1527.5 511V519M1528.5 475V513M1529.5 483V503M1530.5 475V504M1531.5 472V497M1532.5 477V505M1533.5 481V489M1534.5 480V510M1535.5 481V495M1536.5 491V512M1537.5 486V511M1538.5 487V499M1539.5 479V516M1540.5 479V491M1541.5 467V491M1542.5 456V469M1543.5 462V497M1544.5 478V499M1545.5 479V499M1546.5 492V507M1547.5 493V520M1548.5 500V509M1549.5 503V515M1550.5 505V538M1551.5 504V550M1552.5 504V532M1553.5 516V532M1554.5 502V518M1555.5 497V521M1556.5 496V512M1557.5 490V501M1558.5 489V503M1559.5 491V509M1560.5 486V504M1561.5 491V499M1562.5 473V495M1563.5 450V482M1564.5 435V465M1565.5 422V462M1566.5 402V446M1567.5 416V444M1568.5 368V419M1569.5 379V406M1570.5 340V384M1571.5 323V344M1572.5 333V355M1573.5 340V343M1574.5 311V343M1575.5 323V342M1576.5 314V368M1577.5 314V329M1578.5 325V368M1579.5 330V368M1580.5 333V367M1581.5 335V360M1582.5 337V358M1583.5 316V362M1584.5 292V322M1585.5 277V311M1586.5 248V280M1587.5 246V277M1588.5 198V267M1589.5 211V261M1590.5 240V289M1591.5 237V255M1592.5 235V256M1593.5 218V247M1594.5 194V255M1595.5 185V222M1596.5 197V248M1597.5 205V208M1598.5 208V228M1599.5 223V246M1600.5 241V249M1601.5 232V252M1602.5 238V264M1603.5 237V242M1604.5 235V267M1605.5 243V267M1606.5 231V251M1607.5 210V235M1608.5 212V248M1609.5 226V239M1610.5 217V243M1611.5 228V242M1612.5 229V254M1613.5 250V286M1614.5 264V287M1615.5 283V300M1616.5 298V321M1617.5 277V314M1618.5 280V308M1619.5 265V286M1620.5 238V280M1621.5 217V256M1622.5 219V255M1623.5 218V236M1624.5 208V236M1625.5 198V240M1626.5 221V239M1627.5 223V266M1628.5 247V267M1629.5 250V312M1630.5 258V311M1631.5 275V316M1632.5 277V317M1633.5 286V318M1634.5 288V337M1635.5 290V310M1636.5 290V306M1637.5 286V343M1638.5 319V327M1639.5 267V322M1640.5 286V305M1641.5 287V304M1642.5 295V325M1643.5 312V355M1644.5 330V420M1645.5 341V422M1646.5 344V366M1647.5 345V392M1648.5 386V413M1649.5 369V405M1650.5 355V398M1651.5 378V395M1652.5 380V441M1653.5 401V419M1654.5 412V438M1655.5 420V460M1656.5 428V445M1657.5 431V486M1658.5 440V467M1659.5 438V462M1660.5 438V468M1661.5 435V466M1662.5 425V457M1663.5 454V463M1664.5 460V469M1665.5 435V467M1666.5 445V473M1667.5 406V446M1668.5 416V435M1669.5 395V424M1670.5 378V415M1671.5 397V402M1672.5 394V415M1673.5 410V419M1674.5 403V447M1675.5 426V448M1676.5 427V463M1677.5 435V444M1678.5 435V454M1679.5 442V454M1680.5 435V445M1681.5 435V451M1682.5 439V448M1683.5 435V443M1684.5 433V445M1685.5 432V435M1686.5 429V436M1687.5 431V444M1688.5 425V435M1689.5 397V430M1690.5 402V429M1691.5 404V415M1692.5 408V419M1693.5 410V418M1694.5 401V425M1695.5 401V414M1696.5 384V409M1697.5 397V432M1698.5 397V423M1699.5 418V451M1700.5 425V444M1701.5 435V445M1702.5 436V446M1703.5 436V445M1704.5 435V450M1705.5 448V452M1706.5 448V469M1707.5 460V477M1708.5 522V553M1709.5 522V539M1710.5 534V564M1711.5 547V567M1712.5 566V606M1713.5 560V598M1714.5 560V587M1715.5 565V572M1716.5 569V578M1717.5 576V587M1718.5 574V583M1719.5 573V587M1720.5 572V578M1721.5 571V574M1722.5 571V581M1723.5 581V590M1724.5 587V599M1725.5 583V600M1726.5 581V588M1727.5 558V588M1728.5 559V587M1729.5 554V570M1730.5 567V582M1731.5 549V581M1732.5 551V560M1733.5 553V572M1734.5 556V575M1735.5 558V564M1736.5 549V574M1737.5 549V560M1738.5 524V555M1739.5 528V543M1740.5 530V551M1741.5 542V547M1742.5 544V561M1743.5 553V562M1744.5 557V565M1745.5 549V569M1746.5 566V573M1747.5 559V571M1748.5 562V580M1749.5 565V580M1750.5 566V575M1751.5 555V568M1752.5 551V558M1753.5 551V562M1754.5 542V560M1755.5 539V556M1756.5 535V549M1757.5 530V536M1758.5 532V543M1759.5 532V542M1760.5 530V535M1761.5 517V531M1762.5 511V533M1763.5 515V520" stroke="#000" stroke-width="1" fill="none" shape-rendering="crispEdges"/>
<path d="M8.5 800V803M9.5 803V808M17.5 805V808M19.5 808V812M20.5 812V815M22.5 815V818M25.5 817V818M28.5 817V819M30.5 817V818M40.5 817V818M42.5 818V821M44.5 820V821M48.5 820V822M52.5 822V824M55.5 822V824M66.5 817V819M68.5 817V819M69.5 819V822M71.5 821V824M73.5 823V825M75.5 823V824M85.5 821V822M91.5 823V825M97.5 821V822M104.5 821V822M107.5 821V822M109.5 822V823M113.5 824V826M121.5 826V828M125.5 826V828M130.5 827V829M139.5 828V829M151.5 823V825M171.5 809V811M173.5 808V810M174.5 810V811M177.5 811V814M178.5 814V816M181.5 815V817M185.5 815V819M186.5 819V820M187.5 820V821M188.5 821V829M189.5 829V833M200.5 828V830M202.5 829V830M213.5 824V826M218.5 821V822M223.5 817V819M225.5 818V819M231.5 820V821M240.5 818V819M267.5 815V816M271.5 814V816M273.5 814V815M275.5 814V815M294.5 792V794M296.5 794V796M301.5 788V792M303.5 791V793M305.5 792V794M311.5 784V789M312.5 789V794M314.5 790V799M318.5 797V798M323.5 795V797M325.5 795V799M327.5 799V801M331.5 798V799M334.5 798V800M343.5 795V796M348.5 791V793M353.5 794V795M361.5 784V786M370.5 770V771M372.5 764V768M374.5 765V768M377.5 763V765M380.5 767V772M387.5 756V761M390.5 761V763M395.5 746V748M397.5 746V747M402.5 681V713M406.5 682V708M409.5 669V694M410.5 694V695M411.5 695V699M414.5 661V673M419.5 627V646M423.5 612V617M425.5 612V618M427.5 604V615M429.5 605V613M432.5 584V593M433.5 593V634M435.5 613V635M437.5 624V627M438.5 627V646M442.5 621V630M446.5 600V602M448.5 591V607M449.5 607V611M451.5 600V609M452.5 609V613M454.5 612V621M457.5 600V602M463.5 561V564M464.5 564V575M466.5 553V558M471.5 512V530M473.5 528V546M474.5 546V560M476.5 547V557M481.5 440V462M483.5 382V392M487.5 287V296M488.5 296V332M490.5 285V289M494.5 431V445M495.5 445V450M497.5 432V524M499.5 461V490M500.5 490V495M502.5 453V472M503.5 472V507M505.5 484V496M507.5 489V513M509.5 505V517M512.5 493V535M514.5 525V551M516.5 542V591M518.5 572V591M519.5 591V595M522.5 550V589M525.5 538V543M529.5 531V542M530.5 542V552M531.5 552V584M533.5 570V587M536.5 582V594M537.5 594V596M543.5 529V536M554.5 405V408M555.5 408V409M557.5 401V412M559.5 404V425M561.5 397V410M562.5 410V418M563.5 418V420M565.5 406V412M571.5 315V367M575.5 352V395M577.5 392V402M579.5 383V395M580.5 395V401M586.5 420V447M588.5 443V458M591.5 412V424M595.5 351V364M601.5 305V331M604.5 289V290M613.5 229V232M616.5 203V205M618.5 190V192M619.5 192V212M621.5 208V236M623.5 236V272M624.5 272V297M626.5 278V283M629.5 237V247M630.5 247V257M631.5 257V258M634.5 224V285M636.5 232V237M637.5 237V247M638.5 247V255M639.5 255V270M640.5 270V288M641.5 288V307M643.5 298V334M648.5 287V315M651.5 296V312M652.5 312V337M655.5 326V345M657.5 337V379M658.5 379V411M659.5 411V415M662.5 385V426M665.5 386V403M667.5 397V429M668.5 429V466M669.5 466V476M670.5 476V503M671.5 503V541M674.5 502V505M684.5 411V414M685.5 414V432M686.5 432V445M688.5 421V457M690.5 449V457M691.5 457V501M692.5 501V527M696.5 458V482M698.5 458V473M699.5 473V478M701.5 472V506M705.5 462V484M711.5 431V449M718.5 395V397M721.5 370V378M724.5 389V417M726.5 414V439M729.5 418V438M732.5 427V445M734.5 429V442M735.5 442V455M736.5 455V459M738.5 451V470M740.5 447V462M743.5 448V480M746.5 505V561M747.5 561V572M749.5 557V571M751.5 559V583M753.5 573V590M754.5 590V592M756.5 584V605M759.5 578V587M761.5 581V601M762.5 601V603M767.5 597V601M768.5 685V698M772.5 675V698M773.5 698V701M776.5 682V692M778.5 682V691M779.5 691V705M782.5 692V697M785.5 685V693M788.5 686V700M794.5 641V656M797.5 639V645M799.5 616V623M800.5 623V632M804.5 619V627M805.5 627V629M808.5 611V616M814.5 580V583M815.5 583V588M816.5 588V610M817.5 610V612M818.5 612V621M820.5 621V634M822.5 621V630M823.5 630V647M825.5 629V641M827.5 633V637M831.5 618V626M833.5 612V619M835.5 615V622M836.5 622V654M837.5 654V662M839.5 653V668M842.5 662V673M846.5 662V666M848.5 666V668M852.5 663V669M854.5 667V672M856.5 667V670M857.5 670V672M858.5 672V674M861.5 671V674M868.5 627V629M869.5 629V633M870.5 633V636M871.5 636V638M873.5 629V656M874.5 656V678M876.5 668V682M879.5 675V681M882.5 689V693M885.5 688V689M887.5 678V684M890.5 674V675M891.5 675V677M895.5 671V674M898.5 669V672M900.5 666V678M902.5 679V683M903.5 683V688M905.5 680V685M914.5 676V680M916.5 671V672M925.5 629V632M926.5 632V636M934.5 621V625M936.5 618V621M938.5 616V622M939.5 622V630M941.5 627V641M945.5 620V623M947.5 613V615M949.5 615V619M950.5 619V620M951.5 620V623M953.5 624V628M954.5 628V629M956.5 624V627M957.5 627V629M958.5 629V634M960.5 640V651M967.5 601V603M968.5 603V608M969.5 608V609M971.5 601V605M972.5 605V608M977.5 588V591M979.5 586V592M983.5 582V584M987.5 562V570M988.5 570V573M989.5 573V585M991.5 595V596M995.5 586V595M997.5 589V595M998.5 595V598M1002.5 580V591M1003.5 591V600M1006.5 597V599M1007.5 599V603M1011.5 597V600M1020.5 588V594M1021.5 594V599M1023.5 594V601M1024.5 601V602M1027.5 608V609M1028.5 609V621M1039.5 584V586M1040.5 586V593M1042.5 580V585M1044.5 582V592M1047.5 584V591M1050.5 574V585M1052.5 577V591M1055.5 589V592M1057.5 590V592M1058.5 592V596M1064.5 593V595M1066.5 593V598M1067.5 598V599M1070.5 595V599M1072.5 596V600M1073.5 600V605M1074.5 605V619M1077.5 615V624M1079.5 617V624M1081.5 617V620M1084.5 617V627M1088.5 624V629M1089.5 629V632M1092.5 624V633M1095.5 623V625M1096.5 625V629M1099.5 624V626M1100.5 626V629M1106.5 613V616M1108.5 617V624M1109.5 624V627M1111.5 625V627M1112.5 627V630M1113.5 630V634M1123.5 604V607M1125.5 598V603M1127.5 595V597M1128.5 597V600M1135.5 561V573M1137.5 569V579M1141.5 565V578M1145.5 559V561M1147.5 559V564M1148.5 564V571M1151.5 541V543M1154.5 524V528M1155.5 528V532M1156.5 532V538M1158.5 535V544M1160.5 542V552M1166.5 528V535M1168.5 517V521M1170.5 518V539M1174.5 525V536M1179.5 488V494M1181.5 493V496M1182.5 496V510M1183.5 510V512M1184.5 512V524M1186.5 523V525M1187.5 525V540M1188.5 540V543M1192.5 523V535M1196.5 502V505M1197.5 505V510M1199.5 478V493M1206.5 439V444M1210.5 400V404M1212.5 376V389M1221.5 311V315M1223.5 296V344M1224.5 344V364M1225.5 364V385M1228.5 363V378M1230.5 368V376M1234.5 355V360M1236.5 369V382M1237.5 382V384M1241.5 354V376M1242.5 376V393M1243.5 393V412M1244.5 412V417M1245.5 417V422M1246.5 422V442M1247.5 442V445M1249.5 427V442M1252.5 414V417M1253.5 417V438M1256.5 420V435M1259.5 429V445M1262.5 432V449M1264.5 439V453M1272.5 320V331M1273.5 331V337M1275.5 316V330M1277.5 324V328M1278.5 328V332M1280.5 329V338M1282.5 328V348M1283.5 348V351M1284.5 351V363M1285.5 363V378M1287.5 365V381M1291.5 362V373M1292.5 373V394M1293.5 394V397M1295.5 377V379M1296.5 379V386M1298.5 374V376M1299.5 376V397M1300.5 397V406M1301.5 406V436M1303.5 415V439M1307.5 405V412M1313.5 366V380M1314.5 380V384M1316.5 384V389M1317.5 389V406M1318.5 406V417M1321.5 402V412M1322.5 412V426M1323.5 500V545M1327.5 480V495M1328.5 495V505M1331.5 482V496M1333.5 479V491M1334.5 491V495M1336.5 474V479M1337.5 479V499M1339.5 487V494M1340.5 494V507M1344.5 509V530M1346.5 517V526M1348.5 520V533M1351.5 517V522M1352.5 522V523M1359.5 490V502M1361.5 489V492M1362.5 492V503M1364.5 492V502M1365.5 502V512M1367.5 511V512M1368.5 512V518M1372.5 494V504M1374.5 485V496M1377.5 480V487M1378.5 487V492M1379.5 492V500M1381.5 499V508M1384.5 481V482M1386.5 487V499M1387.5 499V511M1394.5 400V413M1395.5 413V426M1397.5 415V418M1399.5 414V425M1406.5 344V352M1407.5 352V356M1409.5 345V354M1413.5 305V309M1414.5 309V338M1416.5 324V328M1418.5 298V318M1419.5 318V355M1421.5 354V384M1425.5 381V390M1426.5 390V392M1427.5 392V394M1432.5 357V373M1434.5 373V412M1435.5 412V431M1437.5 393V405M1439.5 390V405M1443.5 392V404M1445.5 393V415M1447.5 399V418M1450.5 393V396M1452.5 459V460M1453.5 460V482M1456.5 486V489M1458.5 465V486M1459.5 486V487M1462.5 478V485M1465.5 464V468M1466.5 468V494M1469.5 503V530M1472.5 515V553M1474.5 541V562M1476.5 548V579M1477.5 579V587M1479.5 578V588M1485.5 576V580M1487.5 570V576M1488.5 576V588M1490.5 582V594M1492.5 592V595M1494.5 590V594M1495.5 594V597M1497.5 630V634M1501.5 618V624M1502.5 624V626M1503.5 626V633M1505.5 628V630M1508.5 611V617M1511.5 599V601M1513.5 601V604M1517.5 581V585M1521.5 479V504M1523.5 479V511M1525.5 487V500M1526.5 500V519M1530.5 483V488M1531.5 488V497M1535.5 481V491M1536.5 491V511M1538.5 487V499M1540.5 479V484M1543.5 462V495M1545.5 479V498M1547.5 493V507M1549.5 503V512M1550.5 512V535M1552.5 514V532M1557.5 499V500M1564.5 456V462M1566.5 429V444M1572.5 334V342M1575.5 324V326M1577.5 314V329M1578.5 329V350M1579.5 350V367M1581.5 337V356M1589.5 217V244M1590.5 244V245M1597.5 206V208M1598.5 208V226M1599.5 226V245M1604.5 238V261M1608.5 214V229M1609.5 229V238M1612.5 229V250M1613.5 250V264M1614.5 264V286M1615.5 286V298M1616.5 298V309M1621.5 248V251M1623.5 221V232M1625.5 221V239M1627.5 229V252M1629.5 251V258M1630.5 258V309M1632.5 277V307M1634.5 293V299M1636.5 290V297M1637.5 297V327M1641.5 287V295M1642.5 295V324M1643.5 324V354M1644.5 354V401M1646.5 345V354M1647.5 354V390M1648.5 390V401M1650.5 371V393M1652.5 380V401M1653.5 401V415M1654.5 415V426M1655.5 426V439M1657.5 431V440M1658.5 440V456M1660.5 443V466M1662.5 437V454M1663.5 454V462M1664.5 462V465M1670.5 397V402M1673.5 412V416M1674.5 416V445M1676.5 427V443M1678.5 436V453M1681.5 436V445M1683.5 439V443M1685.5 433V435M1687.5 432V434M1690.5 406V415M1692.5 409V416M1697.5 397V419M1698.5 419V422M1699.5 422V426M1700.5 426V442M1702.5 437V443M1704.5 437V449M1706.5 448V466M1707.5 466V477M1709.5 532V534M1710.5 534V547M1711.5 547V566M1712.5 566V598M1714.5 560V569M1716.5 569V576M1717.5 576V582M1722.5 572V581M1723.5 581V589M1724.5 589V599M1729.5 560V568M1730.5 568V581M1735.5 558V563M1737.5 550V555M1742.5 544V556M1743.5 556V557M1744.5 557V565M1745.5 565V569M1746.5 569V571M1748.5 566V569M1749.5 569V575M1754.5 552V555M1758.5 533V542M1763.5 515V520" stroke="#ff0000" stroke-width="1" fill="none" shape-rendering="crispEdges"/>
<g shape-rendering="crispEdges">
<rect x="5" y="860" width="1832" height="1" fill="#000"/>
<rect x="5" y="885" width="1832" height="1" fill="#000"/>
<rect x="5" y="911" width="1832" height="1" fill="#000"/>
</g>
<path d="M17.5 898.9 L19.4 897.6 L22.5 912.7 L28.8 905.2 L31.3 885.1 L37.6 868.8 L43.2 915.8 L49.5 893.9 L53.9 908.3 L61.4 886.4 L63.9 867.6 L68.3 852.5 L74.5 907.0 L83.3 862.6 L92.1 912.0 L97.7 858.8 L102.1 858.8 L112.1 915.2 L118.4 897.6 L125.3 890.8 L130.3 915.2 L135.9 895.1 L140.3 888.9 L143.4 862.6 L150.3 853.8 L156.6 862.6 L160.3 852.5 L169.1 848.8 L174.1 856.3 L180.4 910.2 L186.6 903.9 L191.7 914.6 L196.0 908.9 L201.7 873.8 L205.4 875.1 L208.6 853.8 L213.0 873.8 L216.7 871.3 L222.3 848.8 L231.7 892.6 L236.3 866.3 L238.8 863.8 L241.3 878.8 L246.3 856.3 L250.7 858.8 L257.6 893.9 L262.6 878.8 L267.6 908.3 L273.8 863.8 L279.5 893.2 L283.9 848.8 L291.4 845.6 L297.0 861.9 L300.8 855.7 L308.3 903.9 L312.0 875.7 L316.4 913.9 L325.2 879.5 L327.7 903.3 L332.7 880.1 L336.5 887.0 L341.5 860.0 L344.6 872.6 L349.0 861.3 L354.6 897.6 L360.3 850.6 L365.9 851.3 L367.8 856.3 L369.0 851.9 L374.7 875.1 L377.8 861.9 L383.5 890.1 L388.5 861.9 L392.2 888.2 L397.2 849.4 L399.1 855.0 L401.6 851.9 L407.3 872.6 L410.4 857.5 L415.4 878.2 L422.3 848.1 L429.2 853.8 L430.4 852.5 L438.6 908.3 L441.7 908.3 L446.7 852.5 L456.1 915.2 L462.4 845.6 L468.1 858.2 L471.3 848.8 L476.3 880.1 L482.5 846.3 L488.8 850.0 L496.3 908.3 L507.6 868.8 L517.6 918.9 L528.3 861.3 L536.4 918.9 L545.2 857.5 L552.7 846.3 L557.7 852.5 L561.5 871.9 L566.5 873.2 L570.9 848.1 L576.5 901.4 L580.9 895.1 L589.0 904.5 L594.7 845.6 L599.0 855.0 L601.6 852.5 L607.8 868.2 L612.8 851.3 L619.1 857.5 L625.4 912.0 L633.5 867.6 L642.9 910.1 L651.0 867.6 L655.4 913.9 L660.4 913.3 L667.3 897.0 L674.2 912.0 L683.0 850.6 L691.1 918.3 L698.1 868.8 L705.0 901.4 L711.3 850.0 L713.8 848.8 L720.7 856.3 L727.6 915.8 L734.5 891.4 L740.1 908.3 L747.0 919.5 L756.4 896.4 L763.3 893.9 L770.8 917.7 L776.4 920.2 L781.4 885.1 L785.2 892.6 L787.7 865.1 L792.1 886.3 L796.5 848.8 L801.5 861.9 L807.8 870.7 L812.8 852.5 L816.5 860.0 L822.8 910.1 L833.4 861.3 L840.3 919.5 L851.0 875.1 L856.6 898.2 L867.9 853.2 L872.9 861.3 L877.9 908.3 L883.5 908.9 L892.3 851.3 L898.6 870.1 L904.8 912.0 L913.6 892.0 L922.4 845.6 L930.6 854.4 L934.4 873.8 L938.8 868.2 L943.2 908.9 L948.8 861.3 L952.6 871.3 L960.7 922.0 L965.7 858.8 L969.5 853.8 L974.5 877.0 L978.9 858.8 L983.3 862.5 L987.6 851.9 L993.9 914.5 L1001.4 883.8 L1005.8 913.3 L1013.3 882.6 L1020.2 863.8 L1029.6 915.8 L1037.1 855.7 L1044.6 863.8 L1048.4 900.1 L1051.5 887.6 L1058.4 913.9 L1064.1 903.9 L1065.3 908.3 L1070.3 876.3 L1076.6 910.1 L1082.8 890.7 L1090.4 912.7 L1097.3 864.4 L1102.3 902.0 L1107.3 878.8 L1114.8 918.9 L1123.6 858.8 L1133.6 851.9 L1142.3 889.5 L1148.0 870.7 L1153.1 852.5 L1161.9 898.9 L1166.9 865.7 L1170.7 875.1 L1173.8 897.0 L1180.1 863.2 L1188.2 918.9 L1199.5 847.5 L1205.1 848.1 L1215.1 858.8 L1220.8 850.6 L1227.7 905.8 L1234.6 873.8 L1238.3 900.1 L1241.4 878.8 L1246.5 917.7 L1253.3 882.0 L1260.2 891.4 L1265.9 907.6 L1271.5 848.8 L1276.5 853.8 L1287.2 914.5 L1292.8 897.6 L1299.1 890.7 L1304.1 907.0 L1312.8 851.9 L1325.4 912.0 L1335.4 875.1 L1346.7 912.0 L1361.7 852.5 L1368.0 908.3 L1376.7 858.2 L1383.1 900.1 L1384.2 898.9 L1386.3 893.9 L1388.1 905.1 L1393.2 848.1 L1399.4 875.1 L1402.5 874.4 L1406.3 857.5 L1408.8 854.4 L1416.3 882.0 L1418.8 870.7 L1422.0 900.8 L1428.9 900.1 L1431.4 871.3 L1436.4 912.0 L1444.5 873.2 L1448.9 900.1 L1452.7 892.6 L1457.7 907.0 L1464.6 883.2 L1470.2 913.9 L1477.1 910.8 L1479.6 913.9 L1489.0 864.4 L1497.1 912.7 L1511.5 852.5 L1514.0 851.9 L1517.8 864.4 L1522.8 853.2 L1530.3 871.3 L1534.7 871.9 L1539.1 902.0 L1543.5 872.6 L1550.4 910.8 L1560.4 861.9 L1567.9 847.5 L1577.9 861.3 L1582.3 898.9 L1587.3 849.4 L1593.6 880.1 L1598.6 868.8 L1605.6 907.6 L1606.1 907.6 L1611.9 866.9 L1618.2 915.8 L1626.3 856.9 L1632.6 913.9 L1642.0 887.0 L1647.0 912.0 L1652.0 897.6 L1658.2 915.8 L1670.1 858.8 L1678.3 917.0 L1690.2 857.5 L1694.6 877.6 L1698.3 863.2 L1703.3 913.9 L1707.7 907.6 L1710.9 918.9 L1721.5 888.9 L1724.6 903.9 L1730.9 871.3 L1736.5 887.6 L1739.7 864.4 L1748.4 908.9 L1756.6 854.4 L1760.3 852.5 L1762.8 852.5 L1763.5 859.4" stroke="#000" stroke-width="1.2" fill="none" stroke-linejoin="round"/>
<path d="M17.5 898.9 L18.5 898.9 L19.5 898.7 L20.5 898.4 L21.5 898.7 L22.5 901.0 L23.5 905.4 L24.5 909.6 L25.5 911.5 L26.5 910.9 L27.5 909.7 L28.5 908.5 L29.5 907.3 L30.5 905.8 L31.5 901.9 L32.5 895.4 L33.5 888.4 L34.5 883.5 L35.5 880.6 L36.5 878.0 L37.5 875.4 L38.5 872.8 L39.5 871.2 L40.5 873.9 L41.5 881.0 L42.5 889.3 L43.5 897.6 L44.5 906.0 L45.5 911.6 L46.5 912.5 L47.5 909.4 L48.5 905.9 L49.5 902.4 L50.5 898.9 L51.5 896.3 L52.5 896.3 L53.5 899.0 L54.5 902.3 L55.5 905.4 L56.5 906.4 L57.5 904.9 L58.5 902.0 L59.5 899.0 L60.5 896.1 L61.5 893.2 L62.5 890.3 L63.5 886.6 L64.5 881.1 L65.5 874.1 L66.5 868.0 L67.5 863.6 L68.5 860.2 L69.5 856.8 L70.5 855.9 L71.5 859.8 L72.5 867.9 L73.5 876.6 L74.5 885.3 L75.5 894.0 L76.5 901.3 L77.5 903.1 L78.5 899.4 L79.5 894.3 L80.5 889.3 L81.5 884.2 L82.5 879.1 L83.5 874.1 L84.5 869.0 L85.5 866.0 L86.5 867.3 L87.5 872.4 L88.5 878.0 L89.5 883.6 L90.5 889.3 L91.5 894.9 L92.5 900.6 L93.5 906.2 L94.5 907.5 L95.5 902.8 L96.5 893.5 L97.5 884.0 L98.5 874.6 L99.5 865.8 L100.5 860.4 L101.5 858.8 L102.5 858.8 L103.5 858.8 L104.5 860.4 L105.5 864.2 L106.5 869.8 L107.5 875.4 L108.5 881.0 L109.5 886.6 L110.5 892.3 L111.5 897.9 L112.5 903.5 L113.5 909.1 L114.5 912.5 L115.5 912.5 L116.5 909.8 L117.5 907.0 L118.5 904.2 L119.5 901.4 L120.5 898.9 L121.5 897.1 L122.5 896.0 L123.5 895.0 L124.5 894.0 L125.5 893.0 L126.5 892.0 L127.5 892.2 L128.5 894.8 L129.5 899.4 L130.5 904.3 L131.5 909.1 L132.5 912.3 L133.5 912.1 L134.5 908.9 L135.5 905.4 L136.5 901.8 L137.5 898.3 L138.5 895.5 L139.5 893.5 L140.5 892.1 L141.5 890.7 L142.5 887.9 L143.5 882.3 L144.5 874.3 L145.5 866.9 L146.5 862.4 L147.5 860.5 L148.5 859.3 L149.5 858.0 L150.5 856.7 L151.5 855.4 L152.5 854.7 L153.5 855.0 L154.5 856.2 L155.5 857.6 L156.5 859.0 L157.5 860.4 L158.5 861.4 L159.5 860.9 L160.5 858.7 L161.5 856.0 L162.5 853.8 L163.5 852.4 L164.5 851.8 L165.5 851.4 L166.5 851.0 L167.5 850.5 L168.5 850.1 L169.5 849.7 L170.5 849.2 L171.5 849.3 L172.5 850.2 L173.5 851.7 L174.5 853.2 L175.5 854.7 L176.5 858.1 L177.5 864.3 L178.5 872.8 L179.5 881.4 L180.5 890.0 L181.5 898.6 L182.5 905.6 L183.5 908.9 L184.5 908.5 L185.5 907.5 L186.5 906.5 L187.5 905.5 L188.5 904.8 L189.5 905.2 L190.5 906.9 L191.5 909.0 L192.5 911.1 L193.5 913.0 L194.5 913.6 L195.5 912.8 L196.5 911.5 L197.5 910.2 L198.5 907.5 L199.5 902.7 L200.5 896.5 L201.5 890.3 L202.5 884.1 L203.5 878.3 L204.5 875.0 L205.5 874.3 L206.5 874.6 L207.5 874.0 L208.5 870.4 L209.5 864.2 L210.5 858.5 L211.5 857.2 L212.5 860.5 L213.5 865.1 L214.5 869.6 L215.5 872.4 L216.5 873.1 L217.5 872.5 L218.5 871.6 L219.5 869.5 L220.5 866.0 L221.5 862.0 L222.5 858.0 L223.5 854.0 L224.5 851.6 L225.5 852.5 L226.5 856.7 L227.5 861.3 L228.5 866.0 L229.5 870.7 L230.5 875.3 L231.5 880.0 L232.5 884.7 L233.5 888.7 L234.5 889.0 L235.5 885.1 L236.5 879.3 L237.5 873.4 L238.5 868.6 L239.5 865.8 L240.5 864.9 L241.5 866.8 L242.5 871.4 L243.5 875.3 L244.5 874.9 L245.5 870.9 L246.5 866.4 L247.5 861.9 L248.5 858.4 L249.5 857.0 L250.5 857.3 L251.5 857.9 L252.5 858.8 L253.5 861.4 L254.5 865.8 L255.5 870.8 L256.5 875.9 L257.5 881.0 L258.5 886.1 L259.5 890.4 L260.5 891.6 L261.5 889.4 L262.5 886.4 L263.5 883.4 L264.5 881.3 L265.5 882.6 L266.5 887.5 L267.5 893.3 L268.5 899.2 L269.5 903.9 L270.5 903.5 L271.5 897.9 L272.5 890.8 L273.5 883.7 L274.5 876.6 L275.5 870.0 L276.5 867.6 L277.5 870.0 L278.5 875.3 L279.5 880.5 L280.5 885.7 L281.5 889.0 L282.5 886.2 L283.5 877.4 L284.5 867.3 L285.5 857.5 L286.5 850.9 L287.5 848.3 L288.5 847.9 L289.5 847.4 L290.5 847.0 L291.5 846.6 L292.5 846.2 L293.5 846.3 L294.5 847.8 L295.5 850.4 L296.5 853.3 L297.5 856.2 L298.5 859.1 L299.5 860.6 L300.5 860.2 L301.5 858.6 L302.5 857.3 L303.5 858.9 L304.5 863.8 L305.5 870.2 L306.5 876.6 L307.5 883.0 L308.5 889.4 L309.5 895.8 L310.5 899.5 L311.5 897.6 L312.5 890.8 L313.5 883.3 L314.5 880.6 L315.5 884.3 L316.5 893.0 L317.5 901.7 L318.5 908.7 L319.5 910.5 L320.5 907.6 L321.5 903.7 L322.5 899.8 L323.5 895.8 L324.5 891.9 L325.5 888.0 L326.5 884.0 L327.5 883.2 L328.5 887.8 L329.5 896.0 L330.5 899.4 L331.5 897.1 L332.5 892.5 L333.5 887.9 L334.5 883.6 L335.5 881.8 L336.5 882.5 L337.5 884.3 L338.5 885.3 L339.5 883.3 L340.5 878.6 L341.5 873.2 L342.5 867.8 L343.5 863.6 L344.5 863.1 L345.5 866.2 L346.5 869.7 L347.5 870.6 L348.5 868.9 L349.5 866.3 L350.5 863.8 L351.5 864.1 L352.5 868.0 L353.5 874.4 L354.5 880.9 L355.5 887.3 L356.5 892.6 L357.5 892.2 L358.5 886.0 L359.5 877.6 L360.5 869.3 L361.5 861.0 L362.5 854.4 L363.5 851.1 L364.5 850.8 L365.5 851.0 L366.5 851.1 L367.5 851.2 L368.5 852.2 L369.5 854.0 L370.5 854.2 L371.5 854.2 L372.5 856.0 L373.5 860.1 L374.5 864.2 L375.5 868.3 L376.5 871.8 L377.5 872.3 L378.5 869.4 L379.5 865.6 L380.5 865.0 L381.5 868.0 L382.5 873.0 L383.5 878.0 L384.5 883.0 L385.5 886.6 L386.5 885.9 L387.5 881.2 L388.5 875.6 L389.5 869.9 L390.5 866.0 L391.5 867.0 L392.5 873.0 L393.5 880.0 L394.5 883.6 L395.5 881.4 L396.5 874.1 L397.5 866.4 L398.5 858.6 L399.5 853.3 L400.5 852.2 L401.5 853.7 L402.5 853.8 L403.5 853.0 L404.5 854.1 L405.5 857.1 L406.5 860.8 L407.5 864.4 L408.5 868.1 L409.5 870.0 L410.5 868.4 L411.5 864.0 L412.5 860.6 L413.5 860.9 L414.5 864.4 L415.5 868.5 L416.5 872.6 L417.5 875.4 L418.5 874.8 L419.5 871.0 L420.5 866.7 L421.5 862.3 L422.5 857.9 L423.5 853.6 L424.5 850.3 L425.5 849.0 L426.5 849.6 L427.5 850.4 L428.5 851.2 L429.5 852.0 L430.5 852.8 L431.5 853.2 L432.5 854.0 L433.5 857.3 L434.5 863.6 L435.5 870.4 L436.5 877.3 L437.5 884.1 L438.5 890.9 L439.5 897.8 L440.5 904.0 L441.5 907.5 L442.5 908.3 L443.5 907.5 L444.5 902.7 L445.5 893.4 L446.5 882.3 L447.5 871.1 L448.5 861.2 L449.5 857.7 L450.5 861.4 L451.5 868.0 L452.5 874.7 L453.5 881.4 L454.5 888.0 L455.5 894.7 L456.5 901.4 L457.5 908.0 L458.5 909.9 L459.5 904.6 L460.5 893.7 L461.5 882.6 L462.5 871.5 L463.5 860.4 L464.5 851.5 L465.5 848.0 L466.5 849.3 L467.5 851.4 L468.5 853.6 L469.5 855.8 L470.5 856.6 L471.5 855.4 L472.5 852.5 L473.5 851.4 L474.5 854.0 L475.5 859.8 L476.5 866.0 L477.5 872.3 L478.5 876.2 L479.5 875.4 L480.5 870.6 L481.5 865.2 L482.5 859.8 L483.5 854.4 L484.5 849.6 L485.5 847.2 L486.5 847.2 L487.5 847.8 L488.5 848.4 L489.5 849.0 L490.5 849.9 L491.5 853.3 L492.5 859.5 L493.5 867.3 L494.5 875.0 L495.5 882.8 L496.5 890.5 L497.5 898.3 L498.5 904.0 L499.5 905.1 L500.5 902.3 L501.5 898.8 L502.5 895.3 L503.5 891.8 L504.5 888.3 L505.5 884.8 L506.5 881.3 L507.5 877.8 L508.5 874.3 L509.5 871.5 L510.5 872.1 L511.5 876.0 L512.5 881.0 L513.5 886.0 L514.5 891.0 L515.5 896.0 L516.5 901.0 L517.5 906.0 L518.5 911.0 L519.5 915.1 L520.5 915.3 L521.5 911.3 L522.5 905.8 L523.5 900.4 L524.5 895.0 L525.5 889.6 L526.5 884.2 L527.5 878.8 L528.5 873.4 L529.5 868.0 L530.5 865.1 L531.5 867.3 L532.5 873.8 L533.5 880.9 L534.5 888.0 L535.5 895.0 L536.5 902.1 L537.5 909.2 L538.5 914.2 L539.5 913.5 L540.5 907.5 L541.5 900.5 L542.5 893.5 L543.5 886.5 L544.5 879.5 L545.5 872.5 L546.5 865.5 L547.5 859.9 L548.5 856.4 L549.5 854.8 L550.5 853.3 L551.5 851.8 L552.5 850.3 L553.5 848.8 L554.5 847.4 L555.5 847.1 L556.5 847.9 L557.5 849.2 L558.5 850.4 L559.5 851.9 L560.5 854.9 L561.5 859.4 L562.5 864.6 L563.5 869.1 L564.5 871.7 L565.5 872.3 L566.5 872.6 L567.5 872.8 L568.5 872.3 L569.5 869.5 L570.5 864.3 L571.5 858.6 L572.5 853.4 L573.5 853.3 L574.5 859.3 L575.5 868.7 L576.5 878.1 L577.5 887.6 L578.5 895.8 L579.5 899.6 L580.5 899.2 L581.5 897.8 L582.5 896.4 L583.5 895.9 L584.5 896.5 L585.5 897.6 L586.5 898.8 L587.5 899.9 L588.5 901.1 L589.5 902.2 L590.5 903.3 L591.5 901.0 L592.5 893.9 L593.5 883.5 L594.5 873.0 L595.5 862.6 L596.5 853.1 L597.5 848.3 L598.5 848.6 L599.5 850.7 L600.5 852.9 L601.5 854.1 L602.5 854.0 L603.5 853.4 L604.5 854.1 L605.5 856.2 L606.5 858.7 L607.5 861.2 L608.5 863.7 L609.5 866.0 L610.5 866.2 L611.5 864.1 L612.5 860.7 L613.5 857.3 L614.5 854.1 L615.5 852.4 L616.5 852.5 L617.5 853.5 L618.5 854.5 L619.5 855.5 L620.5 856.5 L621.5 859.6 L622.5 865.9 L623.5 874.5 L624.5 883.2 L625.5 891.9 L626.5 900.6 L627.5 906.8 L628.5 907.4 L629.5 902.8 L630.5 897.4 L631.5 891.9 L632.5 886.4 L633.5 881.0 L634.5 875.5 L635.5 871.2 L636.5 870.9 L637.5 874.6 L638.5 879.1 L639.5 883.6 L640.5 888.2 L641.5 892.7 L642.5 897.2 L643.5 901.8 L644.5 906.0 L645.5 907.0 L646.5 904.1 L647.5 898.9 L648.5 893.7 L649.5 888.4 L650.5 883.2 L651.5 878.0 L652.5 872.8 L653.5 872.3 L654.5 878.2 L655.5 888.8 L656.5 899.3 L657.5 908.3 L658.5 913.0 L659.5 913.7 L660.5 913.6 L661.5 913.5 L662.5 913.0 L663.5 911.7 L664.5 909.5 L665.5 907.1 L666.5 904.7 L667.5 902.4 L668.5 900.0 L669.5 898.5 L670.5 898.8 L671.5 900.8 L672.5 902.9 L673.5 905.1 L674.5 907.3 L675.5 909.5 L676.5 909.5 L677.5 905.9 L678.5 899.2 L679.5 892.2 L680.5 885.2 L681.5 878.2 L682.5 871.2 L683.5 864.2 L684.5 857.4 L685.5 855.4 L686.5 859.5 L687.5 867.8 L688.5 876.1 L689.5 884.4 L690.5 892.7 L691.5 901.0 L692.5 909.3 L693.5 913.5 L694.5 911.6 L695.5 904.8 L696.5 897.7 L697.5 890.7 L698.5 883.6 L699.5 876.6 L700.5 872.6 L701.5 873.3 L702.5 877.8 L703.5 882.5 L704.5 887.2 L705.5 892.0 L706.5 896.7 L707.5 897.5 L708.5 893.1 L709.5 884.9 L710.5 876.7 L711.5 868.5 L712.5 860.3 L713.5 853.7 L714.5 850.0 L715.5 849.2 L716.5 849.4 L717.5 850.1 L718.5 851.2 L719.5 852.3 L720.5 853.4 L721.5 854.5 L722.5 856.1 L723.5 860.5 L724.5 867.9 L725.5 876.6 L726.5 885.2 L727.5 893.8 L728.5 902.5 L729.5 910.0 L730.5 912.7 L731.5 910.6 L732.5 907.1 L733.5 903.5 L734.5 900.0 L735.5 896.4 L736.5 893.7 L737.5 893.6 L738.5 896.1 L739.5 899.1 L740.5 902.1 L741.5 905.1 L742.5 907.7 L743.5 909.8 L744.5 911.4 L745.5 913.1 L746.5 914.7 L747.5 916.3 L748.5 917.9 L749.5 918.3 L750.5 917.0 L751.5 914.5 L752.5 912.0 L753.5 909.6 L754.5 907.1 L755.5 904.6 L756.5 902.2 L757.5 899.7 L758.5 897.6 L759.5 896.3 L760.5 895.8 L761.5 895.4 L762.5 895.0 L763.5 894.7 L764.5 894.3 L765.5 894.7 L766.5 896.4 L767.5 899.4 L768.5 902.6 L769.5 905.8 L770.5 908.9 L771.5 912.1 L772.5 915.1 L773.5 917.2 L774.5 918.2 L775.5 918.7 L776.5 919.1 L777.5 919.5 L778.5 918.9 L779.5 915.4 L780.5 908.9 L781.5 901.9 L782.5 894.9 L783.5 889.2 L784.5 887.0 L785.5 888.3 L786.5 890.3 L787.5 889.2 L788.5 883.0 L789.5 873.5 L790.5 869.3 L791.5 871.5 L792.5 876.4 L793.5 881.2 L794.5 882.3 L795.5 878.1 L796.5 869.7 L797.5 861.1 L798.5 853.9 L799.5 851.2 L800.5 852.9 L801.5 855.5 L802.5 858.1 L803.5 860.6 L804.5 862.6 L805.5 864.1 L806.5 865.5 L807.5 866.9 L808.5 868.3 L809.5 869.4 L810.5 868.7 L811.5 866.0 L812.5 862.4 L813.5 858.8 L814.5 855.5 L815.5 854.1 L816.5 855.1 L817.5 857.1 L818.5 859.7 L819.5 864.8 L820.5 872.2 L821.5 880.2 L822.5 888.2 L823.5 896.2 L824.5 903.5 L825.5 906.5 L826.5 904.4 L827.5 899.8 L828.5 895.2 L829.5 890.6 L830.5 886.0 L831.5 881.4 L832.5 876.9 L833.5 872.3 L834.5 867.7 L835.5 865.0 L836.5 867.5 L837.5 874.9 L838.5 883.3 L839.5 891.8 L840.5 900.2 L841.5 908.7 L842.5 914.8 L843.5 915.8 L844.5 912.4 L845.5 908.2 L846.5 904.0 L847.5 899.8 L848.5 895.7 L849.5 891.5 L850.5 887.3 L851.5 883.1 L852.5 879.1 L853.5 877.6 L854.5 879.5 L855.5 883.6 L856.5 887.7 L857.5 891.8 L858.5 895.2 L859.5 895.5 L860.5 892.5 L861.5 888.5 L862.5 884.5 L863.5 880.5 L864.5 876.5 L865.5 872.5 L866.5 868.5 L867.5 864.5 L868.5 860.5 L869.5 856.7 L870.5 854.7 L871.5 855.0 L872.5 856.7 L873.5 858.3 L874.5 860.1 L875.5 864.6 L876.5 872.1 L877.5 881.4 L878.5 890.8 L879.5 899.9 L880.5 906.0 L881.5 908.4 L882.5 908.5 L883.5 908.6 L884.5 908.7 L885.5 908.2 L886.5 904.9 L887.5 899.0 L888.5 892.5 L889.5 885.9 L890.5 879.3 L891.5 872.7 L892.5 866.2 L893.5 859.6 L894.5 854.9 L895.5 854.0 L896.5 856.5 L897.5 859.5 L898.5 862.5 L899.5 865.5 L900.5 868.8 L901.5 873.6 L902.5 879.9 L903.5 886.6 L904.5 893.3 L905.5 900.0 L906.5 906.3 L907.5 909.6 L908.5 909.3 L909.5 907.0 L910.5 904.7 L911.5 902.4 L912.5 900.1 L913.5 897.8 L914.5 895.6 L915.5 893.0 L916.5 889.3 L917.5 884.4 L918.5 879.1 L919.5 873.8 L920.5 868.5 L921.5 863.2 L922.5 858.0 L923.5 852.7 L924.5 848.5 L925.5 846.8 L926.5 847.4 L927.5 848.5 L928.5 849.5 L929.5 850.6 L930.5 851.6 L931.5 852.7 L932.5 854.1 L933.5 857.0 L934.5 861.6 L935.5 866.8 L936.5 870.9 L937.5 872.5 L938.5 871.7 L939.5 870.4 L940.5 869.7 L941.5 872.6 L942.5 879.8 L943.5 889.1 L944.5 898.3 L945.5 903.3 L946.5 901.1 L947.5 893.2 L948.5 884.7 L949.5 876.3 L950.5 868.3 L951.5 864.2 L952.5 864.6 L953.5 867.2 L954.5 870.2 L955.5 874.6 L956.5 880.5 L957.5 886.7 L958.5 892.9 L959.5 899.2 L960.5 905.4 L961.5 911.6 L962.5 916.6 L963.5 914.7 L964.5 905.3 L965.5 892.7 L966.5 880.1 L967.5 868.1 L968.5 860.3 L969.5 857.0 L970.5 855.7 L971.5 855.1 L972.5 856.9 L973.5 861.0 L974.5 865.6 L975.5 870.2 L976.5 873.8 L977.5 873.9 L978.5 870.5 L979.5 866.4 L980.5 862.4 L981.5 860.1 L982.5 859.8 L983.5 860.6 L984.5 861.5 L985.5 861.7 L986.5 860.5 L987.5 858.2 L988.5 855.8 L989.5 854.4 L990.5 857.6 L991.5 865.8 L992.5 875.8 L993.5 885.8 L994.5 895.8 L995.5 905.5 L996.5 910.5 L997.5 909.9 L998.5 905.8 L999.5 901.8 L1000.5 897.7 L1001.5 893.6 L1002.5 889.5 L1003.5 887.0 L1004.5 888.8 L1005.5 894.7 L1006.5 901.4 L1007.5 907.6 L1008.5 910.1 L1009.5 908.3 L1010.5 904.2 L1011.5 900.1 L1012.5 896.0 L1013.5 891.9 L1014.5 887.8 L1015.5 884.0 L1016.5 880.7 L1017.5 877.9 L1018.5 875.2 L1019.5 872.5 L1020.5 869.7 L1021.5 867.0 L1022.5 866.2 L1023.5 868.7 L1024.5 873.9 L1025.5 879.4 L1026.5 885.0 L1027.5 890.5 L1028.5 896.0 L1029.5 901.6 L1030.5 907.1 L1031.5 911.5 L1032.5 910.6 L1033.5 904.4 L1034.5 896.4 L1035.5 888.4 L1036.5 880.4 L1037.5 872.4 L1038.5 864.4 L1039.5 858.8 L1040.5 856.8 L1041.5 857.7 L1042.5 858.8 L1043.5 859.9 L1044.5 861.0 L1045.5 862.1 L1046.5 863.8 L1047.5 868.9 L1048.5 877.3 L1049.5 887.0 L1050.5 894.5 L1051.5 896.6 L1052.5 893.6 L1053.5 890.4 L1054.5 890.3 L1055.5 893.4 L1056.5 897.2 L1057.5 901.0 L1058.5 904.8 L1059.5 908.6 L1060.5 911.6 L1061.5 912.4 L1062.5 911.0 L1063.5 909.3 L1064.5 907.5 L1065.5 905.7 L1066.5 905.5 L1067.5 905.4 L1068.5 903.1 L1069.5 897.3 L1070.5 890.9 L1071.5 884.5 L1072.5 880.3 L1073.5 880.9 L1074.5 885.6 L1075.5 891.0 L1076.5 896.4 L1077.5 901.8 L1078.5 906.4 L1079.5 907.7 L1080.5 905.6 L1081.5 902.5 L1082.5 899.4 L1083.5 896.3 L1084.5 893.5 L1085.5 892.6 L1086.5 894.2 L1087.5 897.1 L1088.5 900.0 L1089.5 903.0 L1090.5 905.9 L1091.5 908.8 L1092.5 910.0 L1093.5 907.3 L1094.5 900.9 L1095.5 893.9 L1096.5 886.9 L1097.5 879.9 L1098.5 872.9 L1099.5 869.0 L1100.5 870.9 L1101.5 877.8 L1102.5 885.3 L1103.5 892.8 L1104.5 897.8 L1105.5 897.9 L1106.5 893.8 L1107.5 889.2 L1108.5 884.5 L1109.5 882.0 L1110.5 883.4 L1111.5 888.2 L1112.5 893.6 L1113.5 898.9 L1114.5 904.2 L1115.5 909.6 L1116.5 914.3 L1117.5 914.8 L1118.5 910.4 L1119.5 903.5 L1120.5 896.6 L1121.5 889.8 L1122.5 882.9 L1123.5 876.1 L1124.5 869.2 L1125.5 862.9 L1126.5 859.1 L1127.5 857.8 L1128.5 857.1 L1129.5 856.4 L1130.5 855.7 L1131.5 855.0 L1132.5 854.3 L1133.5 853.6 L1134.5 853.0 L1135.5 852.7 L1136.5 854.4 L1137.5 858.2 L1138.5 862.4 L1139.5 866.7 L1140.5 871.0 L1141.5 875.3 L1142.5 879.6 L1143.5 883.9 L1144.5 886.8 L1145.5 886.7 L1146.5 883.8 L1147.5 880.5 L1148.5 877.2 L1149.5 873.8 L1150.5 870.4 L1151.5 867.0 L1152.5 863.4 L1153.5 859.9 L1154.5 856.4 L1155.5 855.2 L1156.5 857.5 L1157.5 862.6 L1158.5 867.9 L1159.5 873.2 L1160.5 878.5 L1161.5 883.7 L1162.5 889.0 L1163.5 894.0 L1164.5 895.0 L1165.5 891.3 L1166.5 884.7 L1167.5 878.1 L1168.5 871.7 L1169.5 868.3 L1170.5 868.5 L1171.5 871.0 L1172.5 873.8 L1173.5 878.3 L1174.5 884.7 L1175.5 891.1 L1176.5 893.2 L1177.5 890.3 L1178.5 884.9 L1179.5 879.5 L1180.5 874.1 L1181.5 868.7 L1182.5 866.9 L1183.5 869.9 L1184.5 876.7 L1185.5 883.5 L1186.5 890.4 L1187.5 897.2 L1188.5 904.1 L1189.5 910.9 L1190.5 914.7 L1191.5 913.2 L1192.5 907.3 L1193.5 901.0 L1194.5 894.7 L1195.5 888.3 L1196.5 882.0 L1197.5 875.7 L1198.5 869.3 L1199.5 863.0 L1200.5 856.7 L1201.5 851.1 L1202.5 848.1 L1203.5 847.7 L1204.5 847.8 L1205.5 847.9 L1206.5 848.0 L1207.5 848.4 L1208.5 849.1 L1209.5 850.2 L1210.5 851.2 L1211.5 852.3 L1212.5 853.4 L1213.5 854.4 L1214.5 855.5 L1215.5 856.6 L1216.5 857.6 L1217.5 858.0 L1218.5 857.4 L1219.5 856.0 L1220.5 854.6 L1221.5 853.2 L1222.5 852.2 L1223.5 854.6 L1224.5 860.7 L1225.5 868.7 L1226.5 876.7 L1227.5 884.7 L1228.5 892.7 L1229.5 899.8 L1230.5 902.1 L1231.5 899.4 L1232.5 894.8 L1233.5 890.1 L1234.5 885.5 L1235.5 880.9 L1236.5 877.3 L1237.5 878.4 L1238.5 884.2 L1239.5 891.2 L1240.5 895.6 L1241.5 894.4 L1242.5 888.4 L1243.5 883.6 L1244.5 884.6 L1245.5 891.2 L1246.5 898.9 L1247.5 906.7 L1248.5 912.7 L1249.5 913.6 L1250.5 909.5 L1251.5 904.3 L1252.5 899.1 L1253.5 893.9 L1254.5 888.7 L1255.5 884.7 L1256.5 883.3 L1257.5 884.3 L1258.5 885.6 L1259.5 887.0 L1260.5 888.4 L1261.5 889.7 L1262.5 891.4 L1263.5 893.7 L1264.5 896.6 L1265.5 899.5 L1266.5 902.3 L1267.5 904.8 L1268.5 902.8 L1269.5 895.5 L1270.5 885.0 L1271.5 874.6 L1272.5 864.1 L1273.5 855.0 L1274.5 850.4 L1275.5 850.3 L1276.5 851.3 L1277.5 852.3 L1278.5 853.8 L1279.5 857.2 L1280.5 862.4 L1281.5 868.1 L1282.5 873.9 L1283.5 879.6 L1284.5 885.3 L1285.5 891.0 L1286.5 896.7 L1287.5 902.4 L1288.5 908.1 L1289.5 911.6 L1290.5 911.7 L1291.5 908.9 L1292.5 905.9 L1293.5 902.9 L1294.5 900.0 L1295.5 897.8 L1296.5 896.3 L1297.5 895.2 L1298.5 894.1 L1299.5 893.0 L1300.5 891.9 L1301.5 892.0 L1302.5 893.9 L1303.5 897.1 L1304.5 900.4 L1305.5 903.6 L1306.5 904.2 L1307.5 900.9 L1308.5 894.7 L1309.5 888.4 L1310.5 882.1 L1311.5 875.8 L1312.5 869.6 L1313.5 863.3 L1314.5 857.4 L1315.5 855.3 L1316.5 857.6 L1317.5 862.4 L1318.5 867.2 L1319.5 872.0 L1320.5 876.8 L1321.5 881.6 L1322.5 886.4 L1323.5 891.2 L1324.5 896.0 L1325.5 900.8 L1326.5 905.6 L1327.5 909.0 L1328.5 909.0 L1329.5 905.9 L1330.5 902.2 L1331.5 898.5 L1332.5 894.8 L1333.5 891.1 L1334.5 887.5 L1335.5 883.8 L1336.5 880.1 L1337.5 877.5 L1338.5 877.7 L1339.5 880.5 L1340.5 883.7 L1341.5 887.0 L1342.5 890.3 L1343.5 893.6 L1344.5 896.8 L1345.5 900.1 L1346.5 903.4 L1347.5 906.7 L1348.5 909.4 L1349.5 909.5 L1350.5 906.6 L1351.5 902.6 L1352.5 898.7 L1353.5 894.7 L1354.5 890.8 L1355.5 886.8 L1356.5 882.9 L1357.5 878.9 L1358.5 874.9 L1359.5 871.0 L1360.5 867.0 L1361.5 863.1 L1362.5 859.1 L1363.5 856.0 L1364.5 857.7 L1365.5 864.4 L1366.5 873.3 L1367.5 882.2 L1368.5 891.1 L1369.5 899.8 L1370.5 903.9 L1371.5 902.1 L1372.5 896.4 L1373.5 890.7 L1374.5 885.0 L1375.5 879.3 L1376.5 873.6 L1377.5 867.8 L1378.5 862.9 L1379.5 862.3 L1380.5 866.7 L1381.5 873.3 L1382.5 879.8 L1383.5 886.4 L1384.5 893.0 L1385.5 897.5 L1386.5 898.7 L1387.5 896.9 L1388.5 896.2 L1389.5 898.9 L1390.5 900.0 L1391.5 894.6 L1392.5 883.6 L1393.5 872.2 L1394.5 860.8 L1395.5 853.4 L1396.5 852.3 L1397.5 856.2 L1398.5 860.5 L1399.5 864.8 L1400.5 869.1 L1401.5 872.8 L1402.5 874.6 L1403.5 874.8 L1404.5 874.1 L1405.5 871.8 L1406.5 867.7 L1407.5 863.2 L1408.5 859.4 L1409.5 856.8 L1410.5 855.6 L1411.5 856.3 L1412.5 858.9 L1413.5 862.6 L1414.5 866.2 L1415.5 869.9 L1416.5 873.6 L1417.5 877.2 L1418.5 879.4 L1419.5 878.3 L1420.5 874.8 L1421.5 875.7 L1422.5 882.3 L1423.5 891.7 L1424.5 898.1 L1425.5 900.7 L1426.5 900.6 L1427.5 900.5 L1428.5 900.4 L1429.5 900.3 L1430.5 899.8 L1431.5 895.4 L1432.5 886.5 L1433.5 878.4 L1434.5 878.1 L1435.5 885.0 L1436.5 893.1 L1437.5 901.2 L1438.5 907.2 L1439.5 908.0 L1440.5 904.1 L1441.5 899.3 L1442.5 894.5 L1443.5 889.8 L1444.5 885.0 L1445.5 880.2 L1446.5 876.7 L1447.5 877.5 L1448.5 882.6 L1449.5 888.7 L1450.5 894.6 L1451.5 897.9 L1452.5 897.8 L1453.5 895.8 L1454.5 894.2 L1455.5 894.4 L1456.5 896.6 L1457.5 899.5 L1458.5 902.3 L1459.5 904.7 L1460.5 904.8 L1461.5 902.3 L1462.5 898.8 L1463.5 895.4 L1464.5 891.9 L1465.5 888.5 L1466.5 885.9 L1467.5 886.8 L1468.5 891.3 L1469.5 896.7 L1470.5 902.2 L1471.5 907.6 L1472.5 911.7 L1473.5 913.3 L1474.5 913.1 L1475.5 912.6 L1476.5 912.2 L1477.5 911.7 L1478.5 911.2 L1479.5 911.3 L1480.5 912.0 L1481.5 912.6 L1482.5 910.8 L1483.5 906.3 L1484.5 901.0 L1485.5 895.7 L1486.5 890.5 L1487.5 885.2 L1488.5 879.9 L1489.5 874.7 L1490.5 869.5 L1491.5 867.9 L1492.5 870.7 L1493.5 876.6 L1494.5 882.5 L1495.5 888.4 L1496.5 894.4 L1497.5 900.3 L1498.5 906.2 L1499.5 909.5 L1500.5 908.7 L1501.5 904.7 L1502.5 900.5 L1503.5 896.3 L1504.5 892.1 L1505.5 888.0 L1506.5 883.8 L1507.5 879.6 L1508.5 875.5 L1509.5 871.3 L1510.5 867.1 L1511.5 862.9 L1512.5 858.8 L1513.5 855.0 L1514.5 852.8 L1515.5 852.2 L1516.5 853.0 L1517.5 855.2 L1518.5 858.6 L1519.5 861.6 L1520.5 862.7 L1521.5 861.6 L1522.5 859.4 L1523.5 857.1 L1524.5 855.1 L1525.5 854.7 L1526.5 856.1 L1527.5 858.6 L1528.5 861.0 L1529.5 863.4 L1530.5 865.8 L1531.5 868.2 L1532.5 870.2 L1533.5 871.3 L1534.5 871.6 L1535.5 871.7 L1536.5 872.3 L1537.5 875.3 L1538.5 881.1 L1539.5 887.9 L1540.5 894.8 L1541.5 897.9 L1542.5 895.5 L1543.5 888.9 L1544.5 882.2 L1545.5 877.0 L1546.5 876.8 L1547.5 881.2 L1548.5 886.8 L1549.5 892.3 L1550.5 897.9 L1551.5 903.4 L1552.5 907.2 L1553.5 906.8 L1554.5 902.6 L1555.5 897.7 L1556.5 892.9 L1557.5 888.0 L1558.5 883.1 L1559.5 878.2 L1560.5 873.4 L1561.5 868.5 L1562.5 864.1 L1563.5 860.9 L1564.5 858.8 L1565.5 856.8 L1566.5 854.9 L1567.5 853.0 L1568.5 851.1 L1569.5 849.3 L1570.5 848.5 L1571.5 849.1 L1572.5 850.5 L1573.5 851.8 L1574.5 853.2 L1575.5 854.6 L1576.5 856.0 L1577.5 857.3 L1578.5 858.7 L1579.5 860.2 L1580.5 864.1 L1581.5 870.9 L1582.5 879.4 L1583.5 888.0 L1584.5 893.0 L1585.5 890.7 L1586.5 881.8 L1587.5 871.9 L1588.5 862.0 L1589.5 854.9 L1590.5 853.8 L1591.5 857.8 L1592.5 862.7 L1593.5 867.6 L1594.5 872.5 L1595.5 876.8 L1596.5 878.2 L1597.5 876.8 L1598.5 874.6 L1599.5 872.3 L1600.5 870.7 L1601.5 872.2 L1602.5 876.8 L1603.5 882.3 L1604.5 887.8 L1605.5 893.3 L1606.5 898.8 L1607.5 903.9 L1608.5 905.0 L1609.5 901.0 L1610.5 894.1 L1611.5 887.0 L1612.5 880.0 L1613.5 873.4 L1614.5 871.6 L1615.5 875.8 L1616.5 883.6 L1617.5 891.4 L1618.5 899.2 L1619.5 907.0 L1620.5 911.1 L1621.5 909.1 L1622.5 902.2 L1623.5 895.0 L1624.5 887.8 L1625.5 880.5 L1626.5 873.3 L1627.5 866.1 L1628.5 862.0 L1629.5 864.4 L1630.5 872.7 L1631.5 881.8 L1632.5 890.9 L1633.5 900.0 L1634.5 907.9 L1635.5 911.2 L1636.5 909.7 L1637.5 906.8 L1638.5 904.0 L1639.5 901.1 L1640.5 898.2 L1641.5 895.4 L1642.5 892.5 L1643.5 889.7 L1644.5 889.5 L1645.5 892.3 L1646.5 897.3 L1647.5 902.3 L1648.5 907.2 L1649.5 909.7 L1650.5 909.0 L1651.5 906.1 L1652.5 903.2 L1653.5 900.4 L1654.5 899.4 L1655.5 900.7 L1656.5 903.6 L1657.5 906.5 L1658.5 909.4 L1659.5 912.3 L1660.5 913.5 L1661.5 911.7 L1662.5 907.2 L1663.5 902.4 L1664.5 897.6 L1665.5 892.9 L1666.5 888.1 L1667.5 883.3 L1668.5 878.5 L1669.5 873.7 L1670.5 868.9 L1671.5 864.1 L1672.5 862.4 L1673.5 865.4 L1674.5 872.3 L1675.5 879.5 L1676.5 886.6 L1677.5 893.8 L1678.5 900.9 L1679.5 908.1 L1680.5 912.8 L1681.5 912.7 L1682.5 908.3 L1683.5 903.3 L1684.5 898.3 L1685.5 893.3 L1686.5 888.3 L1687.5 883.3 L1688.5 878.3 L1689.5 873.3 L1690.5 868.3 L1691.5 863.3 L1692.5 860.6 L1693.5 861.7 L1694.5 866.0 L1695.5 870.5 L1696.5 874.3 L1697.5 874.8 L1698.5 872.0 L1699.5 868.1 L1700.5 866.8 L1701.5 871.1 L1702.5 880.4 L1703.5 890.5 L1704.5 900.7 L1705.5 908.7 L1706.5 912.2 L1707.5 911.5 L1708.5 910.1 L1709.5 908.9 L1710.5 909.6 L1711.5 912.4 L1712.5 915.7 L1713.5 916.9 L1714.5 915.6 L1715.5 912.8 L1716.5 909.9 L1717.5 907.1 L1718.5 904.3 L1719.5 901.5 L1720.5 898.7 L1721.5 895.8 L1722.5 893.0 L1723.5 891.0 L1724.5 892.1 L1725.5 896.2 L1726.5 900.2 L1727.5 900.4 L1728.5 896.6 L1729.5 891.4 L1730.5 886.2 L1731.5 881.0 L1732.5 876.0 L1733.5 873.7 L1734.5 874.6 L1735.5 877.5 L1736.5 880.4 L1737.5 883.3 L1738.5 885.1 L1739.5 882.9 L1740.5 876.5 L1741.5 870.0 L1742.5 868.2 L1743.5 871.4 L1744.5 876.4 L1745.5 881.5 L1746.5 886.6 L1747.5 891.6 L1748.5 896.7 L1749.5 901.8 L1750.5 905.2 L1751.5 904.0 L1752.5 898.2 L1753.5 891.5 L1754.5 884.8 L1755.5 878.1 L1756.5 871.4 L1757.5 864.7 L1758.5 858.6 L1759.5 854.9 L1760.5 853.7 L1761.5 853.2 L1762.5 852.8" stroke="#ff0000" stroke-width="1.2" fill="none" stroke-linejoin="round"/>
<text x="1843.0" y="33.0" font-family="Liberation Sans" font-size="12" fill="#000" font-weight="normal" text-anchor="start" letter-spacing="0.4">6000.00</text>
<text x="1843.0" y="67.0" font-family="Liberation Sans" font-size="12" fill="#000" font-weight="normal" text-anchor="start" letter-spacing="0.4">5750.00</text>
<text x="1843.0" y="101.0" font-family="Liberation Sans" font-size="12" fill="#000" font-weight="normal" text-anchor="start" letter-spacing="0.4">5500.00</text>
<text x="1843.0" y="135.0" font-family="Liberation Sans" font-size="12" fill="#000" font-weight="normal" text-anchor="start" letter-spacing="0.4">5250.00</text>
<text x="1843.0" y="169.0" font-family="Liberation Sans" font-size="12" fill="#000" font-weight="normal" text-anchor="start" letter-spacing="0.4">5000.00</text>
<text x="1843.0" y="203.0" font-family="Liberation Sans" font-size="12" fill="#000" font-weight="normal" text-anchor="start" letter-spacing="0.4">4750.00</text>
<text x="1843.0" y="238.0" font-family="Liberation Sans" font-size="12" fill="#000" font-weight="normal" text-anchor="start" letter-spacing="0.4">4500.00</text>
<text x="1843.0" y="272.0" font-family="Liberation Sans" font-size="12" fill="#000" font-weight="normal" text-anchor="start" letter-spacing="0.4">4250.00</text>
<text x="1843.0" y="306.0" font-family="Liberation Sans" font-size="12" fill="#000" font-weight="normal" text-anchor="start" letter-spacing="0.4">4000.00</text>
<text x="1843.0" y="340.0" font-family="Liberation Sans" font-size="12" fill="#000" font-weight="normal" text-anchor="start" letter-spacing="0.4">3750.00</text>
<text x="1843.0" y="374.0" font-family="Liberation Sans" font-size="12" fill="#000" font-weight="normal" text-anchor="start" letter-spacing="0.4">3500.00</text>
<text x="1843.0" y="408.0" font-family="Liberation Sans" font-size="12" fill="#000" font-weight="normal" text-anchor="start" letter-spacing="0.4">3250.00</text>
<text x="1843.0" y="442.0" font-family="Liberation Sans" font-size="12" fill="#000" font-weight="normal" text-anchor="start" letter-spacing="0.4">3000.00</text>
<text x="1843.0" y="476.0" font-family="Liberation Sans" font-size="12" fill="#000" font-weight="normal" text-anchor="start" letter-spacing="0.4">2750.00</text>
<text x="1843.0" y="511.0" font-family="Liberation Sans" font-size="12" fill="#000" font-weight="normal" text-anchor="start" letter-spacing="0.4">2500.00</text>
<text x="1843.0" y="545.0" font-family="Liberation Sans" font-size="12" fill="#000" font-weight="normal" text-anchor="start" letter-spacing="0.4">2250.00</text>
<text x="1843.0" y="579.0" font-family="Liberation Sans" font-size="12" fill="#000" font-weight="normal" text-anchor="start" letter-spacing="0.4">2000.00</text>
<text x="1843.0" y="613.0" font-family="Liberation Sans" font-size="12" fill="#000" font-weight="normal" text-anchor="start" letter-spacing="0.4">1750.00</text>
<text x="1843.0" y="647.0" font-family="Liberation Sans" font-size="12" fill="#000" font-weight="normal" text-anchor="start" letter-spacing="0.4">1500.00</text>
<text x="1843.0" y="681.0" font-family="Liberation Sans" font-size="12" fill="#000" font-weight="normal" text-anchor="start" letter-spacing="0.4">1250.00</text>
<text x="1843.0" y="715.0" font-family="Liberation Sans" font-size="12" fill="#000" font-weight="normal" text-anchor="start" letter-spacing="0.4">1000.00</text>
<text x="1843.0" y="749.0" font-family="Liberation Sans" font-size="12" fill="#000" font-weight="normal" text-anchor="start" letter-spacing="0.4">750.00</text>
<text x="1843.0" y="784.0" font-family="Liberation Sans" font-size="12" fill="#000" font-weight="normal" text-anchor="start" letter-spacing="0.4">500.00</text>
<text x="1843.0" y="818.0" font-family="Liberation Sans" font-size="12" fill="#000" font-weight="normal" text-anchor="start" letter-spacing="0.4">250.00</text>
<rect x="1838" y="529" width="77" height="14" fill="#0000ff"/>
<text x="1843.0" y="541.0" font-family="Liberation Sans" font-size="12" fill="#fff" font-weight="normal" text-anchor="start" letter-spacing="0.4">2274.90</text>
<rect x="1838" y="843" width="77" height="14" fill="#ff0000"/>
<text x="1843.0" y="855.0" font-family="Liberation Sans" font-size="12" fill="#fff" font-weight="normal" text-anchor="start" letter-spacing="0.4">86.34</text>
<rect x="1839" y="849" width="3" height="1" fill="#fff"/>
<rect x="1838" y="858" width="77" height="14" fill="#000"/>
<text x="1843.0" y="870.0" font-family="Liberation Sans" font-size="12" fill="#fff" font-weight="normal" text-anchor="start" letter-spacing="0.4">78.72</text>
<rect x="1839" y="864" width="3" height="1" fill="#fff"/>
<text x="1843.0" y="890.0" font-family="Liberation Sans" font-size="12" fill="#000" font-weight="normal" text-anchor="start" letter-spacing="0.4">50.00</text>
<text x="1843.0" y="910.5" font-family="Liberation Sans" font-size="12" fill="#000" font-weight="normal" text-anchor="start" letter-spacing="0.4">25.000</text>
<text x="250.5" y="177.0" font-family="Liberation Sans" font-size="13" fill="#000" font-weight="bold" text-anchor="start" letter-spacing="0.55">ETHEREUM (ETH) USD</text>
<text x="435.0" y="176.8" font-family="Liberation Serif" font-size="12" fill="#000" font-weight="normal" text-anchor="start" textLength="401.5" lengthAdjust="spacingAndGlyphs">Haftungsausschluss für Inhalte: Alle Trendkanäle bzw. andere Linien, oder Grafiken hier sind keine</text>
<text x="839.4" y="176.8" font-family="Liberation Serif" font-size="12" fill="#000" font-weight="normal" text-anchor="start" textLength="354.4" lengthAdjust="spacingAndGlyphs">Empfehlungen, oder Beratung, sondern die zeigen lediglich meine eigene Einschätzung.</text>
<text x="1197.5" y="176.8" font-family="Liberation Serif" font-size="12" fill="#000" font-weight="normal" text-anchor="start" textLength="144.0" lengthAdjust="spacingAndGlyphs">Alle Chartdaten sind ohne Gewähr.</text>
<text x="1346.2" y="176.8" font-family="Liberation Serif" font-size="12" fill="#000" font-weight="normal" text-anchor="start" textLength="192.2" lengthAdjust="spacingAndGlyphs">www.wikifolio.com/de/de/p/cyberwaehrungen</text>
<text x="485.6" y="245.5" font-family="Liberation Sans" font-size="12" fill="#138a9e" font-weight="normal" text-anchor="start" textLength="126" lengthAdjust="spacingAndGlyphs">Durchbruch nach oben!</text>
<text x="481.0" y="292.0" font-family="Liberation Sans" font-size="12" fill="#138a9e" font-weight="normal" text-anchor="start" textLength="126" lengthAdjust="spacingAndGlyphs">Durchbruch nach oben!</text>
<text x="1450.0" y="286.0" font-family="Liberation Sans" font-size="12" fill="#138a9e" font-weight="normal" text-anchor="start" textLength="128" lengthAdjust="spacingAndGlyphs">Durchbruch nach oben!</text>
<text x="393.8" y="833.0" font-family="Liberation Sans" font-size="12" fill="#1c1c9c" font-weight="normal" text-anchor="start" textLength="927" lengthAdjust="spacingAndGlyphs">- Stochastik-Oszillator - Ein Indikator, für erfahrene viel-Trader, schwankt zwischen Null und 100. Seine überverkaufte Zone, liegt unter 20 und die überkaufte Zone, über 80.</text>
<rect x="5.5" y="844.5" width="47" height="13" fill="#fff" stroke="#000" stroke-width="1" shape-rendering="crispEdges"/>
<text x="8.0" y="855.5" font-family="Liberation Sans" font-size="12" fill="#101040" font-weight="normal" text-anchor="start" letter-spacing="0.4">Sto(9/5)</text>
<rect x="55.5" y="845.5" width="12" height="11" fill="#fff" stroke="#000" stroke-width="1" shape-rendering="crispEdges"/>
<path d="M57.5 851H66M61.75 847V855.5" stroke="#000" stroke-width="2" shape-rendering="crispEdges"/>
<text x="8.0" y="871.0" font-family="Liberation Sans" font-size="12" fill="#000" font-weight="normal" text-anchor="start" letter-spacing="0.4">%K</text>
<text x="8.0" y="885.5" font-family="Liberation Sans" font-size="12" fill="#ff0000" font-weight="normal" text-anchor="start" letter-spacing="0.4">%D</text>
<text x="816.5" y="858.5" font-family="Liberation Sans" font-size="12" fill="#202040" font-weight="normal" text-anchor="start" letter-spacing="0.4">80.000</text>
<text x="1182.0" y="884.0" font-family="Liberation Sans" font-size="12" fill="#202040" font-weight="normal" text-anchor="start" letter-spacing="0.4">50.000</text>
<text x="1548.5" y="909.5" font-family="Liberation Sans" font-size="12" fill="#202040" font-weight="normal" text-anchor="start" letter-spacing="0.4">20.000</text>
<text x="11.3" y="944.5" font-family="Liberation Sans" font-size="12" fill="#000" font-weight="normal" text-anchor="start" letter-spacing="0.4">20.04.26</text>
<rect x="83" y="936" width="1" height="9" fill="#80e0ff"/>
<text x="86.0" y="944.5" font-family="Liberation Sans" font-size="12" fill="#000" font-weight="normal" text-anchor="start" letter-spacing="0.4">9</text>
<text x="120.4" y="944.5" font-family="Liberation Sans" font-size="12" fill="#000" font-weight="normal" text-anchor="end" letter-spacing="0.4">12</text>
<text x="122.0" y="944.5" font-family="Liberation Sans" font-size="12" fill="#000" font-weight="normal" text-anchor="start" letter-spacing="0.4">19</text>
<text x="161.4" y="944.5" font-family="Liberation Sans" font-size="12" fill="#000" font-weight="normal" text-anchor="end" letter-spacing="0.4">02</text>
<text x="163.0" y="944.5" font-family="Liberation Sans" font-size="12" fill="#000" font-weight="normal" text-anchor="start" letter-spacing="0.4">20</text>
<text x="203.4" y="944.5" font-family="Liberation Sans" font-size="12" fill="#000" font-weight="normal" text-anchor="end" letter-spacing="0.4">04</text>
<text x="205.0" y="944.5" font-family="Liberation Sans" font-size="12" fill="#000" font-weight="normal" text-anchor="start" letter-spacing="0.4">20</text>
<text x="245.4" y="944.5" font-family="Liberation Sans" font-size="12" fill="#000" font-weight="normal" text-anchor="end" letter-spacing="0.4">06</text>
<text x="247.0" y="944.5" font-family="Liberation Sans" font-size="12" fill="#000" font-weight="normal" text-anchor="start" letter-spacing="0.4">20</text>
<text x="290.4" y="944.5" font-family="Liberation Sans" font-size="12" fill="#000" font-weight="normal" text-anchor="end" letter-spacing="0.4">08</text>
<text x="292.0" y="944.5" font-family="Liberation Sans" font-size="12" fill="#000" font-weight="normal" text-anchor="start" letter-spacing="0.4">20</text>
<text x="332.4" y="944.5" font-family="Liberation Sans" font-size="12" fill="#000" font-weight="normal" text-anchor="end" letter-spacing="0.4">10</text>
<text x="334.0" y="944.5" font-family="Liberation Sans" font-size="12" fill="#000" font-weight="normal" text-anchor="start" letter-spacing="0.4">20</text>
<text x="375.4" y="944.5" font-family="Liberation Sans" font-size="12" fill="#000" font-weight="normal" text-anchor="end" letter-spacing="0.4">12</text>
<text x="377.0" y="944.5" font-family="Liberation Sans" font-size="12" fill="#000" font-weight="normal" text-anchor="start" letter-spacing="0.4">20</text>
<text x="418.4" y="944.5" font-family="Liberation Sans" font-size="12" fill="#000" font-weight="normal" text-anchor="end" letter-spacing="0.4">02</text>
<text x="420.0" y="944.5" font-family="Liberation Sans" font-size="12" fill="#000" font-weight="normal" text-anchor="start" letter-spacing="0.4">21</text>
<text x="461.4" y="944.5" font-family="Liberation Sans" font-size="12" fill="#000" font-weight="normal" text-anchor="end" letter-spacing="0.4">04</text>
<text x="463.0" y="944.5" font-family="Liberation Sans" font-size="12" fill="#000" font-weight="normal" text-anchor="start" letter-spacing="0.4">21</text>
<text x="504.4" y="944.5" font-family="Liberation Sans" font-size="12" fill="#000" font-weight="normal" text-anchor="end" letter-spacing="0.4">06</text>
<text x="506.0" y="944.5" font-family="Liberation Sans" font-size="12" fill="#000" font-weight="normal" text-anchor="start" letter-spacing="0.4">21</text>
<text x="547.4" y="944.5" font-family="Liberation Sans" font-size="12" fill="#000" font-weight="normal" text-anchor="end" letter-spacing="0.4">08</text>
<text x="549.0" y="944.5" font-family="Liberation Sans" font-size="12" fill="#000" font-weight="normal" text-anchor="start" letter-spacing="0.4">21</text>
<text x="591.4" y="944.5" font-family="Liberation Sans" font-size="12" fill="#000" font-weight="normal" text-anchor="end" letter-spacing="0.4">10</text>
<text x="593.0" y="944.5" font-family="Liberation Sans" font-size="12" fill="#000" font-weight="normal" text-anchor="start" letter-spacing="0.4">21</text>
<text x="633.4" y="944.5" font-family="Liberation Sans" font-size="12" fill="#000" font-weight="normal" text-anchor="end" letter-spacing="0.4">12</text>
<text x="635.0" y="944.5" font-family="Liberation Sans" font-size="12" fill="#000" font-weight="normal" text-anchor="start" letter-spacing="0.4">21</text>
<text x="677.4" y="944.5" font-family="Liberation Sans" font-size="12" fill="#000" font-weight="normal" text-anchor="end" letter-spacing="0.4">02</text>
<text x="679.0" y="944.5" font-family="Liberation Sans" font-size="12" fill="#000" font-weight="normal" text-anchor="start" letter-spacing="0.4">22</text>
<text x="719.4" y="944.5" font-family="Liberation Sans" font-size="12" fill="#000" font-weight="normal" text-anchor="end" letter-spacing="0.4">04</text>
<text x="721.0" y="944.5" font-family="Liberation Sans" font-size="12" fill="#000" font-weight="normal" text-anchor="start" letter-spacing="0.4">22</text>
<text x="762.4" y="944.5" font-family="Liberation Sans" font-size="12" fill="#000" font-weight="normal" text-anchor="end" letter-spacing="0.4">06</text>
<text x="764.0" y="944.5" font-family="Liberation Sans" font-size="12" fill="#000" font-weight="normal" text-anchor="start" letter-spacing="0.4">22</text>
<text x="804.4" y="944.5" font-family="Liberation Sans" font-size="12" fill="#000" font-weight="normal" text-anchor="end" letter-spacing="0.4">08</text>
<text x="806.0" y="944.5" font-family="Liberation Sans" font-size="12" fill="#000" font-weight="normal" text-anchor="start" letter-spacing="0.4">22</text>
<text x="849.4" y="944.5" font-family="Liberation Sans" font-size="12" fill="#000" font-weight="normal" text-anchor="end" letter-spacing="0.4">10</text>
<text x="851.0" y="944.5" font-family="Liberation Sans" font-size="12" fill="#000" font-weight="normal" text-anchor="start" letter-spacing="0.4">22</text>
<text x="891.4" y="944.5" font-family="Liberation Sans" font-size="12" fill="#000" font-weight="normal" text-anchor="end" letter-spacing="0.4">12</text>
<text x="893.0" y="944.5" font-family="Liberation Sans" font-size="12" fill="#000" font-weight="normal" text-anchor="start" letter-spacing="0.4">22</text>
<text x="935.4" y="944.5" font-family="Liberation Sans" font-size="12" fill="#000" font-weight="normal" text-anchor="end" letter-spacing="0.4">02</text>
<text x="937.0" y="944.5" font-family="Liberation Sans" font-size="12" fill="#000" font-weight="normal" text-anchor="start" letter-spacing="0.4">23</text>
<text x="977.4" y="944.5" font-family="Liberation Sans" font-size="12" fill="#000" font-weight="normal" text-anchor="end" letter-spacing="0.4">04</text>
<text x="979.0" y="944.5" font-family="Liberation Sans" font-size="12" fill="#000" font-weight="normal" text-anchor="start" letter-spacing="0.4">23</text>
<text x="1020.4" y="944.5" font-family="Liberation Sans" font-size="12" fill="#000" font-weight="normal" text-anchor="end" letter-spacing="0.4">06</text>
<text x="1022.0" y="944.5" font-family="Liberation Sans" font-size="12" fill="#000" font-weight="normal" text-anchor="start" letter-spacing="0.4">23</text>
<text x="1062.4" y="944.5" font-family="Liberation Sans" font-size="12" fill="#000" font-weight="normal" text-anchor="end" letter-spacing="0.4">08</text>
<text x="1064.0" y="944.5" font-family="Liberation Sans" font-size="12" fill="#000" font-weight="normal" text-anchor="start" letter-spacing="0.4">23</text>
<text x="1106.4" y="944.5" font-family="Liberation Sans" font-size="12" fill="#000" font-weight="normal" text-anchor="end" letter-spacing="0.4">10</text>
<text x="1108.0" y="944.5" font-family="Liberation Sans" font-size="12" fill="#000" font-weight="normal" text-anchor="start" letter-spacing="0.4">23</text>
<text x="1149.4" y="944.5" font-family="Liberation Sans" font-size="12" fill="#000" font-weight="normal" text-anchor="end" letter-spacing="0.4">12</text>
<text x="1151.0" y="944.5" font-family="Liberation Sans" font-size="12" fill="#000" font-weight="normal" text-anchor="start" letter-spacing="0.4">23</text>
<text x="1193.4" y="944.5" font-family="Liberation Sans" font-size="12" fill="#000" font-weight="normal" text-anchor="end" letter-spacing="0.4">02</text>
<text x="1195.0" y="944.5" font-family="Liberation Sans" font-size="12" fill="#000" font-weight="normal" text-anchor="start" letter-spacing="0.4">24</text>
<text x="1235.4" y="944.5" font-family="Liberation Sans" font-size="12" fill="#000" font-weight="normal" text-anchor="end" letter-spacing="0.4">04</text>
<text x="1237.0" y="944.5" font-family="Liberation Sans" font-size="12" fill="#000" font-weight="normal" text-anchor="start" letter-spacing="0.4">24</text>
<text x="1279.4" y="944.5" font-family="Liberation Sans" font-size="12" fill="#000" font-weight="normal" text-anchor="end" letter-spacing="0.4">06</text>
<text x="1281.0" y="944.5" font-family="Liberation Sans" font-size="12" fill="#000" font-weight="normal" text-anchor="start" letter-spacing="0.4">24</text>
<text x="1322.4" y="944.5" font-family="Liberation Sans" font-size="12" fill="#000" font-weight="normal" text-anchor="end" letter-spacing="0.4">08</text>
<text x="1324.0" y="944.5" font-family="Liberation Sans" font-size="12" fill="#000" font-weight="normal" text-anchor="start" letter-spacing="0.4">24</text>
<text x="1364.4" y="944.5" font-family="Liberation Sans" font-size="12" fill="#000" font-weight="normal" text-anchor="end" letter-spacing="0.4">10</text>
<text x="1366.0" y="944.5" font-family="Liberation Sans" font-size="12" fill="#000" font-weight="normal" text-anchor="start" letter-spacing="0.4">24</text>
<text x="1408.4" y="944.5" font-family="Liberation Sans" font-size="12" fill="#000" font-weight="normal" text-anchor="end" letter-spacing="0.4">12</text>
<text x="1410.0" y="944.5" font-family="Liberation Sans" font-size="12" fill="#000" font-weight="normal" text-anchor="start" letter-spacing="0.4">24</text>
<text x="1452.4" y="944.5" font-family="Liberation Sans" font-size="12" fill="#000" font-weight="normal" text-anchor="end" letter-spacing="0.4">02</text>
<text x="1454.0" y="944.5" font-family="Liberation Sans" font-size="12" fill="#000" font-weight="normal" text-anchor="start" letter-spacing="0.4">25</text>
<text x="1493.4" y="944.5" font-family="Liberation Sans" font-size="12" fill="#000" font-weight="normal" text-anchor="end" letter-spacing="0.4">04</text>
<text x="1495.0" y="944.5" font-family="Liberation Sans" font-size="12" fill="#000" font-weight="normal" text-anchor="start" letter-spacing="0.4">25</text>
<text x="1536.4" y="944.5" font-family="Liberation Sans" font-size="12" fill="#000" font-weight="normal" text-anchor="end" letter-spacing="0.4">06</text>
<text x="1538.0" y="944.5" font-family="Liberation Sans" font-size="12" fill="#000" font-weight="normal" text-anchor="start" letter-spacing="0.4">25</text>
<text x="1580.4" y="944.5" font-family="Liberation Sans" font-size="12" fill="#000" font-weight="normal" text-anchor="end" letter-spacing="0.4">08</text>
<text x="1582.0" y="944.5" font-family="Liberation Sans" font-size="12" fill="#000" font-weight="normal" text-anchor="start" letter-spacing="0.4">25</text>
<text x="1622.4" y="944.5" font-family="Liberation Sans" font-size="12" fill="#000" font-weight="normal" text-anchor="end" letter-spacing="0.4">10</text>
<text x="1624.0" y="944.5" font-family="Liberation Sans" font-size="12" fill="#000" font-weight="normal" text-anchor="start" letter-spacing="0.4">25</text>
<text x="1665.4" y="944.5" font-family="Liberation Sans" font-size="12" fill="#000" font-weight="normal" text-anchor="end" letter-spacing="0.4">12</text>
<text x="1667.0" y="944.5" font-family="Liberation Sans" font-size="12" fill="#000" font-weight="normal" text-anchor="start" letter-spacing="0.4">25</text>
<text x="1709.4" y="944.5" font-family="Liberation Sans" font-size="12" fill="#000" font-weight="normal" text-anchor="end" letter-spacing="0.4">02</text>
<text x="1711.0" y="944.5" font-family="Liberation Sans" font-size="12" fill="#000" font-weight="normal" text-anchor="start" letter-spacing="0.4">26</text>
<text x="1751.4" y="944.5" font-family="Liberation Sans" font-size="12" fill="#000" font-weight="normal" text-anchor="end" letter-spacing="0.4">04</text>
<text x="1753.0" y="944.5" font-family="Liberation Sans" font-size="12" fill="#000" font-weight="normal" text-anchor="start" letter-spacing="0.4">26</text>
<text x="1793.4" y="944.5" font-family="Liberation Sans" font-size="12" fill="#000" font-weight="normal" text-anchor="end" letter-spacing="0.4">06</text>
<text x="1795.0" y="944.5" font-family="Liberation Sans" font-size="12" fill="#000" font-weight="normal" text-anchor="start" letter-spacing="0.4">26</text>
<text x="1827.0" y="944.5" font-family="Liberation Sans" font-size="12" fill="#000" font-weight="normal" text-anchor="start" letter-spacing="0.4">-</text>
<rect x="1907.5" y="17.5" width="7" height="7" fill="none" stroke="#b0b0b0" shape-rendering="crispEdges"/>
<rect x="1909" y="21" width="4" height="1" fill="#b0b0b0"/>
<path d="M1758 1H1769L1763.5 5Z" fill="#00c000"/>
</svg>
</body></html>
